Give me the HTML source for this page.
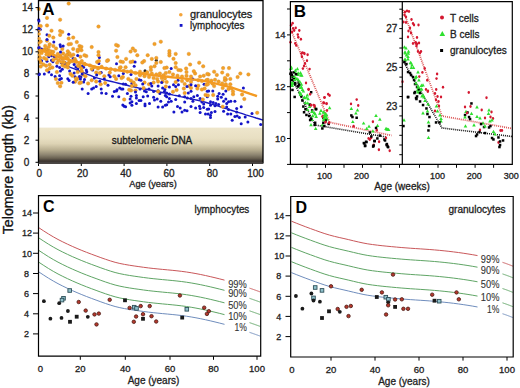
<!DOCTYPE html>
<html><head><meta charset="utf-8"><style>
html,body{margin:0;padding:0;background:#fff;width:520px;height:388px;overflow:hidden}
svg{display:block;font-family:"Liberation Sans", sans-serif}
</style></head><body>
<svg width="520" height="388" viewBox="0 0 520 388">
<rect width="520" height="388" fill="#fff"/>
<defs><linearGradient id="band" x1="0" y1="0" x2="0" y2="1"><stop offset="0" stop-color="#eee6cc"/><stop offset="0.3" stop-color="#e8dfc2"/><stop offset="0.45" stop-color="#ddd3b4"/><stop offset="0.62" stop-color="#b8ae90"/><stop offset="0.76" stop-color="#8c8470"/><stop offset="0.85" stop-color="#6a6252"/><stop offset="0.93" stop-color="#3c3530"/><stop offset="1" stop-color="#4a4644"/></linearGradient></defs>
<rect x="38.5" y="127.6" width="224.5" height="36.0" fill="url(#band)"/>
<text x="152.0" y="144.3" font-size="10" text-anchor="middle" fill="#1a1a1a" stroke="#1a1a1a" stroke-width="0.3" font-weight="normal" >subtelomeric DNA</text>
<circle cx="169.4" cy="98.5" r="1.5" fill="#1414c8"/>
<circle cx="118.8" cy="96.8" r="1.5" fill="#1414c8"/>
<circle cx="101.2" cy="88.9" r="1.5" fill="#1414c8"/>
<circle cx="217.7" cy="99.0" r="1.5" fill="#1414c8"/>
<circle cx="51.5" cy="60.3" r="1.5" fill="#1414c8"/>
<circle cx="67.8" cy="78.8" r="1.5" fill="#1414c8"/>
<circle cx="200.1" cy="98.5" r="1.5" fill="#1414c8"/>
<circle cx="245.2" cy="117.1" r="1.5" fill="#1414c8"/>
<circle cx="82.2" cy="89.0" r="1.5" fill="#1414c8"/>
<circle cx="108.9" cy="74.9" r="1.5" fill="#1414c8"/>
<circle cx="92.6" cy="69.9" r="1.5" fill="#1414c8"/>
<circle cx="165.3" cy="105.3" r="1.5" fill="#1414c8"/>
<circle cx="39.4" cy="73.9" r="1.5" fill="#1414c8"/>
<circle cx="158.1" cy="86.1" r="1.5" fill="#1414c8"/>
<circle cx="131.9" cy="105.3" r="1.5" fill="#1414c8"/>
<circle cx="208.7" cy="91.1" r="1.5" fill="#1414c8"/>
<circle cx="68.7" cy="34.3" r="1.5" fill="#1414c8"/>
<circle cx="136.4" cy="98.1" r="1.5" fill="#1414c8"/>
<circle cx="191.0" cy="98.5" r="1.5" fill="#1414c8"/>
<circle cx="203.7" cy="107.5" r="1.5" fill="#1414c8"/>
<circle cx="145.0" cy="105.8" r="1.5" fill="#1414c8"/>
<circle cx="208.2" cy="113.9" r="1.5" fill="#1414c8"/>
<circle cx="159.9" cy="93.6" r="1.5" fill="#1414c8"/>
<circle cx="119.7" cy="88.0" r="1.5" fill="#1414c8"/>
<circle cx="225.8" cy="99.0" r="1.5" fill="#1414c8"/>
<circle cx="192.9" cy="101.2" r="1.5" fill="#1414c8"/>
<circle cx="175.7" cy="99.4" r="1.5" fill="#1414c8"/>
<circle cx="195.6" cy="108.0" r="1.5" fill="#1414c8"/>
<circle cx="239.4" cy="117.5" r="1.5" fill="#1414c8"/>
<circle cx="48.8" cy="72.1" r="1.5" fill="#1414c8"/>
<circle cx="201.9" cy="102.1" r="1.5" fill="#1414c8"/>
<circle cx="52.9" cy="61.7" r="1.5" fill="#1414c8"/>
<circle cx="230.8" cy="101.3" r="1.5" fill="#1414c8"/>
<circle cx="223.6" cy="101.3" r="1.5" fill="#1414c8"/>
<circle cx="147.7" cy="95.9" r="1.5" fill="#1414c8"/>
<circle cx="60.1" cy="44.8" r="1.5" fill="#1414c8"/>
<circle cx="140.9" cy="80.3" r="1.5" fill="#1414c8"/>
<circle cx="125.6" cy="106.7" r="1.5" fill="#1414c8"/>
<circle cx="180.2" cy="108.0" r="1.5" fill="#1414c8"/>
<circle cx="207.3" cy="91.3" r="1.5" fill="#1414c8"/>
<circle cx="197.4" cy="95.4" r="1.5" fill="#1414c8"/>
<circle cx="118.8" cy="75.8" r="1.5" fill="#1414c8"/>
<circle cx="82.3" cy="65.9" r="1.5" fill="#1414c8"/>
<circle cx="145.0" cy="104.0" r="1.5" fill="#1414c8"/>
<circle cx="101.6" cy="92.9" r="1.5" fill="#1414c8"/>
<circle cx="179.3" cy="95.8" r="1.5" fill="#1414c8"/>
<circle cx="166.7" cy="93.1" r="1.5" fill="#1414c8"/>
<circle cx="173.5" cy="84.8" r="1.5" fill="#1414c8"/>
<circle cx="65.0" cy="62.6" r="1.5" fill="#1414c8"/>
<circle cx="80.4" cy="66.6" r="1.5" fill="#1414c8"/>
<circle cx="164.4" cy="91.6" r="1.5" fill="#1414c8"/>
<circle cx="191.0" cy="91.3" r="1.5" fill="#1414c8"/>
<circle cx="218.6" cy="104.4" r="1.5" fill="#1414c8"/>
<circle cx="215.9" cy="103.5" r="1.5" fill="#1414c8"/>
<circle cx="83.6" cy="82.1" r="1.5" fill="#1414c8"/>
<circle cx="187.0" cy="110.7" r="1.5" fill="#1414c8"/>
<circle cx="212.8" cy="91.1" r="1.5" fill="#1414c8"/>
<circle cx="136.4" cy="95.4" r="1.5" fill="#1414c8"/>
<circle cx="40.3" cy="29.6" r="1.5" fill="#1414c8"/>
<circle cx="62.3" cy="69.3" r="1.5" fill="#1414c8"/>
<circle cx="184.7" cy="110.2" r="1.5" fill="#1414c8"/>
<circle cx="164.9" cy="89.5" r="1.5" fill="#1414c8"/>
<circle cx="200.1" cy="108.4" r="1.5" fill="#1414c8"/>
<circle cx="38.9" cy="30.2" r="1.5" fill="#1414c8"/>
<circle cx="166.7" cy="104.8" r="1.5" fill="#1414c8"/>
<circle cx="149.5" cy="103.5" r="1.5" fill="#1414c8"/>
<circle cx="260.7" cy="124.4" r="1.5" fill="#1414c8"/>
<circle cx="131.0" cy="74.4" r="1.5" fill="#1414c8"/>
<circle cx="165.3" cy="95.4" r="1.5" fill="#1414c8"/>
<circle cx="149.0" cy="88.9" r="1.5" fill="#1414c8"/>
<circle cx="157.2" cy="99.0" r="1.5" fill="#1414c8"/>
<circle cx="252.0" cy="113.4" r="1.5" fill="#1414c8"/>
<circle cx="188.3" cy="93.1" r="1.5" fill="#1414c8"/>
<circle cx="41.6" cy="60.8" r="1.5" fill="#1414c8"/>
<circle cx="169.4" cy="87.0" r="1.5" fill="#1414c8"/>
<circle cx="47.0" cy="34.7" r="1.5" fill="#1414c8"/>
<circle cx="83.6" cy="67.2" r="1.5" fill="#1414c8"/>
<circle cx="69.1" cy="53.4" r="1.5" fill="#1414c8"/>
<circle cx="41.6" cy="48.9" r="1.5" fill="#1414c8"/>
<circle cx="38.7" cy="19.8" r="1.5" fill="#1414c8"/>
<circle cx="184.7" cy="96.7" r="1.5" fill="#1414c8"/>
<circle cx="215.0" cy="111.6" r="1.5" fill="#1414c8"/>
<circle cx="158.1" cy="90.7" r="1.5" fill="#1414c8"/>
<circle cx="75.0" cy="76.8" r="1.5" fill="#1414c8"/>
<circle cx="177.5" cy="106.6" r="1.5" fill="#1414c8"/>
<circle cx="110.2" cy="76.7" r="1.5" fill="#1414c8"/>
<circle cx="210.5" cy="105.3" r="1.5" fill="#1414c8"/>
<circle cx="139.1" cy="79.8" r="1.5" fill="#1414c8"/>
<circle cx="204.1" cy="84.3" r="1.5" fill="#1414c8"/>
<circle cx="69.1" cy="80.4" r="1.5" fill="#1414c8"/>
<circle cx="144.5" cy="91.1" r="1.5" fill="#1414c8"/>
<circle cx="228.5" cy="101.7" r="1.5" fill="#1414c8"/>
<circle cx="203.7" cy="103.9" r="1.5" fill="#1414c8"/>
<circle cx="178.4" cy="84.8" r="1.5" fill="#1414c8"/>
<circle cx="86.3" cy="69.9" r="1.5" fill="#1414c8"/>
<circle cx="207.3" cy="109.3" r="1.5" fill="#1414c8"/>
<circle cx="223.1" cy="94.3" r="1.5" fill="#1414c8"/>
<circle cx="93.5" cy="88.0" r="1.5" fill="#1414c8"/>
<circle cx="127.4" cy="93.4" r="1.5" fill="#1414c8"/>
<circle cx="184.7" cy="102.1" r="1.5" fill="#1414c8"/>
<circle cx="210.5" cy="101.7" r="1.5" fill="#1414c8"/>
<circle cx="80.9" cy="77.1" r="1.5" fill="#1414c8"/>
<circle cx="221.3" cy="97.2" r="1.5" fill="#1414c8"/>
<circle cx="208.7" cy="108.9" r="1.5" fill="#1414c8"/>
<circle cx="168.5" cy="102.1" r="1.5" fill="#1414c8"/>
<circle cx="236.7" cy="112.1" r="1.5" fill="#1414c8"/>
<circle cx="131.9" cy="83.4" r="1.5" fill="#1414c8"/>
<circle cx="124.2" cy="106.2" r="1.5" fill="#1414c8"/>
<circle cx="38.9" cy="48.0" r="1.5" fill="#1414c8"/>
<circle cx="131.0" cy="96.3" r="1.5" fill="#1414c8"/>
<circle cx="223.6" cy="111.2" r="1.5" fill="#1414c8"/>
<circle cx="69.6" cy="71.1" r="1.5" fill="#1414c8"/>
<circle cx="123.3" cy="83.9" r="1.5" fill="#1414c8"/>
<circle cx="123.3" cy="73.5" r="1.5" fill="#1414c8"/>
<circle cx="146.3" cy="91.8" r="1.5" fill="#1414c8"/>
<circle cx="226.7" cy="107.1" r="1.5" fill="#1414c8"/>
<circle cx="226.7" cy="103.5" r="1.5" fill="#1414c8"/>
<circle cx="47.0" cy="61.2" r="1.5" fill="#1414c8"/>
<circle cx="228.5" cy="109.4" r="1.5" fill="#1414c8"/>
<circle cx="243.4" cy="88.0" r="1.5" fill="#1414c8"/>
<circle cx="75.9" cy="67.1" r="1.5" fill="#1414c8"/>
<circle cx="66.9" cy="64.4" r="1.5" fill="#1414c8"/>
<circle cx="98.9" cy="63.4" r="1.5" fill="#1414c8"/>
<circle cx="187.4" cy="98.1" r="1.5" fill="#1414c8"/>
<circle cx="154.5" cy="99.9" r="1.5" fill="#1414c8"/>
<circle cx="234.9" cy="101.3" r="1.5" fill="#1414c8"/>
<circle cx="99.4" cy="57.5" r="1.5" fill="#1414c8"/>
<circle cx="153.6" cy="91.6" r="1.5" fill="#1414c8"/>
<circle cx="106.1" cy="93.4" r="1.5" fill="#1414c8"/>
<circle cx="140.0" cy="88.9" r="1.5" fill="#1414c8"/>
<circle cx="215.0" cy="105.8" r="1.5" fill="#1414c8"/>
<circle cx="182.0" cy="112.1" r="1.5" fill="#1414c8"/>
<circle cx="48.8" cy="56.7" r="1.5" fill="#1414c8"/>
<circle cx="225.8" cy="91.1" r="1.5" fill="#1414c8"/>
<circle cx="178.0" cy="80.2" r="1.5" fill="#1414c8"/>
<circle cx="101.2" cy="72.6" r="1.5" fill="#1414c8"/>
<circle cx="74.1" cy="73.0" r="1.5" fill="#1414c8"/>
<circle cx="247.9" cy="122.0" r="1.5" fill="#1414c8"/>
<circle cx="160.8" cy="101.3" r="1.5" fill="#1414c8"/>
<circle cx="136.4" cy="103.5" r="1.5" fill="#1414c8"/>
<circle cx="61.4" cy="78.4" r="1.5" fill="#1414c8"/>
<circle cx="112.5" cy="96.3" r="1.5" fill="#1414c8"/>
<circle cx="55.1" cy="76.6" r="1.5" fill="#1414c8"/>
<circle cx="210.5" cy="117.5" r="1.5" fill="#1414c8"/>
<circle cx="51.5" cy="55.8" r="1.5" fill="#1414c8"/>
<circle cx="236.7" cy="108.5" r="1.5" fill="#1414c8"/>
<circle cx="131.9" cy="101.7" r="1.5" fill="#1414c8"/>
<circle cx="205.5" cy="113.9" r="1.5" fill="#1414c8"/>
<circle cx="241.2" cy="123.8" r="1.5" fill="#1414c8"/>
<circle cx="73.2" cy="58.5" r="1.5" fill="#1414c8"/>
<circle cx="207.3" cy="96.7" r="1.5" fill="#1414c8"/>
<circle cx="77.7" cy="68.9" r="1.5" fill="#1414c8"/>
<circle cx="191.0" cy="106.6" r="1.5" fill="#1414c8"/>
<circle cx="156.3" cy="60.2" r="1.5" fill="#222"/>
<circle cx="145.0" cy="70.8" r="1.5" fill="#222"/>
<path d="M60.0,63.0 L63.4,64.4 L66.9,65.8 L70.3,67.3 L73.8,68.7 L77.2,70.1 L80.6,71.5 L84.1,72.9 L87.5,74.3 L91.0,75.7 L94.4,77.1 L97.8,78.2 L101.3,79.1 L104.7,79.9 L108.2,80.7 L111.6,81.5 L115.1,82.4 L118.5,83.2 L121.9,84.0 L125.4,84.8 L128.8,85.7 L132.3,86.5 L135.7,87.3 L139.1,88.1 L142.6,88.7 L146.0,89.2 L149.5,89.8 L152.9,90.5 L156.3,91.3 L159.8,92.0 L163.2,92.8 L166.7,93.5 L170.1,94.3 L173.5,95.1 L177.0,95.8 L180.4,96.6 L183.9,97.3 L187.3,98.1 L190.7,98.8 L194.2,99.6 L197.6,100.3 L201.1,101.1 L204.5,102.0 L207.9,103.0 L211.4,104.1 L214.8,105.2 L218.3,106.2 L221.7,107.3 L225.2,108.4 L228.6,109.4 L232.0,110.5 L235.5,111.6 L238.9,112.6 L242.4,113.7 L245.8,114.8 L249.2,115.8 L252.7,116.9 L256.1,118.0 L259.6,119.0 L263.0,120.1" stroke="#1a1ac0" stroke-width="1.4" fill="none"/>
<circle cx="177.5" cy="75.7" r="1.75" fill="#f5a125" stroke="#d48c2a" stroke-width="0.4"/>
<circle cx="60.1" cy="19.7" r="1.75" fill="#f5a125" stroke="#d48c2a" stroke-width="0.4"/>
<circle cx="175.7" cy="63.1" r="1.75" fill="#f5a125" stroke="#d48c2a" stroke-width="0.4"/>
<circle cx="51.1" cy="51.4" r="1.75" fill="#f5a125" stroke="#d48c2a" stroke-width="0.4"/>
<circle cx="184.7" cy="83.9" r="1.75" fill="#f5a125" stroke="#d48c2a" stroke-width="0.4"/>
<circle cx="52.4" cy="67.5" r="1.75" fill="#f5a125" stroke="#d48c2a" stroke-width="0.4"/>
<circle cx="144.5" cy="82.5" r="1.75" fill="#f5a125" stroke="#d48c2a" stroke-width="0.4"/>
<circle cx="190.1" cy="64.5" r="1.75" fill="#f5a125" stroke="#d48c2a" stroke-width="0.4"/>
<circle cx="114.3" cy="76.2" r="1.75" fill="#f5a125" stroke="#d48c2a" stroke-width="0.4"/>
<circle cx="165.8" cy="73.0" r="1.75" fill="#f5a125" stroke="#d48c2a" stroke-width="0.4"/>
<circle cx="62.3" cy="48.9" r="1.75" fill="#f5a125" stroke="#d48c2a" stroke-width="0.4"/>
<circle cx="49.7" cy="64.8" r="1.75" fill="#f5a125" stroke="#d48c2a" stroke-width="0.4"/>
<circle cx="131.0" cy="80.7" r="1.75" fill="#f5a125" stroke="#d48c2a" stroke-width="0.4"/>
<circle cx="214.1" cy="86.1" r="1.75" fill="#f5a125" stroke="#d48c2a" stroke-width="0.4"/>
<circle cx="140.0" cy="71.7" r="1.75" fill="#f5a125" stroke="#d48c2a" stroke-width="0.4"/>
<circle cx="96.2" cy="72.6" r="1.75" fill="#f5a125" stroke="#d48c2a" stroke-width="0.4"/>
<circle cx="44.0" cy="58.0" r="1.75" fill="#f5a125" stroke="#d48c2a" stroke-width="0.4"/>
<circle cx="97.1" cy="62.0" r="1.75" fill="#f5a125" stroke="#d48c2a" stroke-width="0.4"/>
<circle cx="57.8" cy="83.1" r="1.75" fill="#f5a125" stroke="#d48c2a" stroke-width="0.4"/>
<circle cx="98.5" cy="55.2" r="1.75" fill="#f5a125" stroke="#d48c2a" stroke-width="0.4"/>
<circle cx="198.3" cy="85.7" r="1.75" fill="#f5a125" stroke="#d48c2a" stroke-width="0.4"/>
<circle cx="116.1" cy="78.9" r="1.75" fill="#f5a125" stroke="#d48c2a" stroke-width="0.4"/>
<circle cx="53.2" cy="51.8" r="1.75" fill="#f5a125" stroke="#d48c2a" stroke-width="0.4"/>
<circle cx="166.7" cy="67.6" r="1.75" fill="#f5a125" stroke="#d48c2a" stroke-width="0.4"/>
<circle cx="218.6" cy="81.6" r="1.75" fill="#f5a125" stroke="#d48c2a" stroke-width="0.4"/>
<circle cx="110.7" cy="69.0" r="1.75" fill="#f5a125" stroke="#d48c2a" stroke-width="0.4"/>
<circle cx="73.2" cy="48.9" r="1.75" fill="#f5a125" stroke="#d48c2a" stroke-width="0.4"/>
<circle cx="88.1" cy="83.4" r="1.75" fill="#f5a125" stroke="#d48c2a" stroke-width="0.4"/>
<circle cx="191.0" cy="87.9" r="1.75" fill="#f5a125" stroke="#d48c2a" stroke-width="0.4"/>
<circle cx="63.0" cy="59.0" r="1.75" fill="#f5a125" stroke="#d48c2a" stroke-width="0.4"/>
<circle cx="119.7" cy="68.1" r="1.75" fill="#f5a125" stroke="#d48c2a" stroke-width="0.4"/>
<circle cx="244.3" cy="99.0" r="1.75" fill="#f5a125" stroke="#d48c2a" stroke-width="0.4"/>
<circle cx="147.7" cy="55.2" r="1.75" fill="#f5a125" stroke="#d48c2a" stroke-width="0.4"/>
<circle cx="169.4" cy="55.5" r="1.75" fill="#f5a125" stroke="#d48c2a" stroke-width="0.4"/>
<circle cx="206.4" cy="84.8" r="1.75" fill="#f5a125" stroke="#d48c2a" stroke-width="0.4"/>
<circle cx="131.0" cy="90.5" r="1.75" fill="#f5a125" stroke="#d48c2a" stroke-width="0.4"/>
<circle cx="213.2" cy="95.0" r="1.75" fill="#f5a125" stroke="#d48c2a" stroke-width="0.4"/>
<circle cx="211.4" cy="80.7" r="1.75" fill="#f5a125" stroke="#d48c2a" stroke-width="0.4"/>
<circle cx="131.0" cy="71.3" r="1.75" fill="#f5a125" stroke="#d48c2a" stroke-width="0.4"/>
<circle cx="205.5" cy="94.9" r="1.75" fill="#f5a125" stroke="#d48c2a" stroke-width="0.4"/>
<circle cx="94.4" cy="67.2" r="1.75" fill="#f5a125" stroke="#d48c2a" stroke-width="0.4"/>
<circle cx="46.1" cy="65.7" r="1.75" fill="#f5a125" stroke="#d48c2a" stroke-width="0.4"/>
<circle cx="79.5" cy="63.0" r="1.75" fill="#f5a125" stroke="#d48c2a" stroke-width="0.4"/>
<circle cx="133.7" cy="82.5" r="1.75" fill="#f5a125" stroke="#d48c2a" stroke-width="0.4"/>
<circle cx="82.7" cy="74.4" r="1.75" fill="#f5a125" stroke="#d48c2a" stroke-width="0.4"/>
<circle cx="128.3" cy="78.9" r="1.75" fill="#f5a125" stroke="#d48c2a" stroke-width="0.4"/>
<circle cx="62.5" cy="65.3" r="1.75" fill="#f5a125" stroke="#d48c2a" stroke-width="0.4"/>
<circle cx="182.0" cy="76.6" r="1.75" fill="#f5a125" stroke="#d48c2a" stroke-width="0.4"/>
<circle cx="202.8" cy="99.4" r="1.75" fill="#f5a125" stroke="#d48c2a" stroke-width="0.4"/>
<circle cx="68.7" cy="3.6" r="1.75" fill="#f5a125" stroke="#d48c2a" stroke-width="0.4"/>
<circle cx="199.2" cy="62.7" r="1.75" fill="#f5a125" stroke="#d48c2a" stroke-width="0.4"/>
<circle cx="60.1" cy="86.3" r="1.75" fill="#f5a125" stroke="#d48c2a" stroke-width="0.4"/>
<circle cx="233.0" cy="94.3" r="1.75" fill="#f5a125" stroke="#d48c2a" stroke-width="0.4"/>
<circle cx="44.3" cy="49.5" r="1.75" fill="#f5a125" stroke="#d48c2a" stroke-width="0.4"/>
<circle cx="60.5" cy="55.8" r="1.75" fill="#f5a125" stroke="#d48c2a" stroke-width="0.4"/>
<circle cx="154.5" cy="66.3" r="1.75" fill="#f5a125" stroke="#d48c2a" stroke-width="0.4"/>
<circle cx="233.0" cy="91.6" r="1.75" fill="#f5a125" stroke="#d48c2a" stroke-width="0.4"/>
<circle cx="222.2" cy="72.6" r="1.75" fill="#f5a125" stroke="#d48c2a" stroke-width="0.4"/>
<circle cx="86.3" cy="56.1" r="1.75" fill="#f5a125" stroke="#d48c2a" stroke-width="0.4"/>
<circle cx="76.8" cy="79.5" r="1.75" fill="#f5a125" stroke="#d48c2a" stroke-width="0.4"/>
<circle cx="53.3" cy="37.6" r="1.75" fill="#f5a125" stroke="#d48c2a" stroke-width="0.4"/>
<circle cx="160.8" cy="62.0" r="1.75" fill="#f5a125" stroke="#d48c2a" stroke-width="0.4"/>
<circle cx="222.2" cy="83.4" r="1.75" fill="#f5a125" stroke="#d48c2a" stroke-width="0.4"/>
<circle cx="106.1" cy="68.6" r="1.75" fill="#f5a125" stroke="#d48c2a" stroke-width="0.4"/>
<circle cx="46.6" cy="48.9" r="1.75" fill="#f5a125" stroke="#d48c2a" stroke-width="0.4"/>
<circle cx="72.3" cy="61.2" r="1.75" fill="#f5a125" stroke="#d48c2a" stroke-width="0.4"/>
<circle cx="47.0" cy="50.4" r="1.75" fill="#f5a125" stroke="#d48c2a" stroke-width="0.4"/>
<circle cx="223.1" cy="68.1" r="1.75" fill="#f5a125" stroke="#d48c2a" stroke-width="0.4"/>
<circle cx="137.3" cy="55.2" r="1.75" fill="#f5a125" stroke="#d48c2a" stroke-width="0.4"/>
<circle cx="144.5" cy="76.2" r="1.75" fill="#f5a125" stroke="#d48c2a" stroke-width="0.4"/>
<circle cx="41.1" cy="51.9" r="1.75" fill="#f5a125" stroke="#d48c2a" stroke-width="0.4"/>
<circle cx="132.8" cy="48.5" r="1.75" fill="#f5a125" stroke="#d48c2a" stroke-width="0.4"/>
<circle cx="162.6" cy="81.6" r="1.75" fill="#f5a125" stroke="#d48c2a" stroke-width="0.4"/>
<circle cx="75.9" cy="78.4" r="1.75" fill="#f5a125" stroke="#d48c2a" stroke-width="0.4"/>
<circle cx="130.6" cy="51.6" r="1.75" fill="#f5a125" stroke="#d48c2a" stroke-width="0.4"/>
<circle cx="79.5" cy="46.1" r="1.75" fill="#f5a125" stroke="#d48c2a" stroke-width="0.4"/>
<circle cx="207.8" cy="84.3" r="1.75" fill="#f5a125" stroke="#d48c2a" stroke-width="0.4"/>
<circle cx="151.8" cy="73.5" r="1.75" fill="#f5a125" stroke="#d48c2a" stroke-width="0.4"/>
<circle cx="63.2" cy="53.4" r="1.75" fill="#f5a125" stroke="#d48c2a" stroke-width="0.4"/>
<circle cx="39.8" cy="57.6" r="1.75" fill="#f5a125" stroke="#d48c2a" stroke-width="0.4"/>
<circle cx="77.7" cy="72.1" r="1.75" fill="#f5a125" stroke="#d48c2a" stroke-width="0.4"/>
<circle cx="151.8" cy="58.9" r="1.75" fill="#f5a125" stroke="#d48c2a" stroke-width="0.4"/>
<circle cx="203.2" cy="66.3" r="1.75" fill="#f5a125" stroke="#d48c2a" stroke-width="0.4"/>
<circle cx="48.3" cy="51.0" r="1.75" fill="#f5a125" stroke="#d48c2a" stroke-width="0.4"/>
<circle cx="62.1" cy="58.2" r="1.75" fill="#f5a125" stroke="#d48c2a" stroke-width="0.4"/>
<circle cx="71.0" cy="56.0" r="1.75" fill="#f5a125" stroke="#d48c2a" stroke-width="0.4"/>
<circle cx="203.7" cy="75.7" r="1.75" fill="#f5a125" stroke="#d48c2a" stroke-width="0.4"/>
<circle cx="257.2" cy="112.8" r="1.75" fill="#f5a125" stroke="#d48c2a" stroke-width="0.4"/>
<circle cx="195.1" cy="73.5" r="1.75" fill="#f5a125" stroke="#d48c2a" stroke-width="0.4"/>
<circle cx="207.8" cy="95.4" r="1.75" fill="#f5a125" stroke="#d48c2a" stroke-width="0.4"/>
<circle cx="53.3" cy="60.0" r="1.75" fill="#f5a125" stroke="#d48c2a" stroke-width="0.4"/>
<circle cx="230.3" cy="84.3" r="1.75" fill="#f5a125" stroke="#d48c2a" stroke-width="0.4"/>
<circle cx="124.2" cy="99.5" r="1.75" fill="#f5a125" stroke="#d48c2a" stroke-width="0.4"/>
<circle cx="99.8" cy="73.1" r="1.75" fill="#f5a125" stroke="#d48c2a" stroke-width="0.4"/>
<circle cx="41.6" cy="53.1" r="1.75" fill="#f5a125" stroke="#d48c2a" stroke-width="0.4"/>
<circle cx="186.5" cy="72.1" r="1.75" fill="#f5a125" stroke="#d48c2a" stroke-width="0.4"/>
<circle cx="58.7" cy="60.3" r="1.75" fill="#f5a125" stroke="#d48c2a" stroke-width="0.4"/>
<circle cx="156.3" cy="58.0" r="1.75" fill="#f5a125" stroke="#d48c2a" stroke-width="0.4"/>
<circle cx="237.6" cy="77.1" r="1.75" fill="#f5a125" stroke="#d48c2a" stroke-width="0.4"/>
<circle cx="165.8" cy="86.6" r="1.75" fill="#f5a125" stroke="#d48c2a" stroke-width="0.4"/>
<circle cx="204.6" cy="88.6" r="1.75" fill="#f5a125" stroke="#d48c2a" stroke-width="0.4"/>
<circle cx="56.9" cy="72.1" r="1.75" fill="#f5a125" stroke="#d48c2a" stroke-width="0.4"/>
<circle cx="105.2" cy="83.0" r="1.75" fill="#f5a125" stroke="#d48c2a" stroke-width="0.4"/>
<circle cx="130.6" cy="62.0" r="1.75" fill="#f5a125" stroke="#d48c2a" stroke-width="0.4"/>
<circle cx="47.0" cy="40.7" r="1.75" fill="#f5a125" stroke="#d48c2a" stroke-width="0.4"/>
<circle cx="60.1" cy="34.9" r="1.75" fill="#f5a125" stroke="#d48c2a" stroke-width="0.4"/>
<circle cx="184.7" cy="93.1" r="1.75" fill="#f5a125" stroke="#d48c2a" stroke-width="0.4"/>
<circle cx="240.3" cy="73.5" r="1.75" fill="#f5a125" stroke="#d48c2a" stroke-width="0.4"/>
<circle cx="98.5" cy="26.6" r="1.75" fill="#f5a125" stroke="#d48c2a" stroke-width="0.4"/>
<circle cx="65.0" cy="66.6" r="1.75" fill="#f5a125" stroke="#d48c2a" stroke-width="0.4"/>
<circle cx="153.6" cy="78.0" r="1.75" fill="#f5a125" stroke="#d48c2a" stroke-width="0.4"/>
<circle cx="156.3" cy="62.9" r="1.75" fill="#f5a125" stroke="#d48c2a" stroke-width="0.4"/>
<circle cx="47.0" cy="70.2" r="1.75" fill="#f5a125" stroke="#d48c2a" stroke-width="0.4"/>
<circle cx="49.7" cy="68.4" r="1.75" fill="#f5a125" stroke="#d48c2a" stroke-width="0.4"/>
<circle cx="169.4" cy="53.4" r="1.75" fill="#f5a125" stroke="#d48c2a" stroke-width="0.4"/>
<circle cx="68.7" cy="38.5" r="1.75" fill="#f5a125" stroke="#d48c2a" stroke-width="0.4"/>
<circle cx="115.2" cy="69.9" r="1.75" fill="#f5a125" stroke="#d48c2a" stroke-width="0.4"/>
<circle cx="127.4" cy="71.7" r="1.75" fill="#f5a125" stroke="#d48c2a" stroke-width="0.4"/>
<circle cx="188.8" cy="53.9" r="1.75" fill="#f5a125" stroke="#d48c2a" stroke-width="0.4"/>
<circle cx="70.5" cy="73.9" r="1.75" fill="#f5a125" stroke="#d48c2a" stroke-width="0.4"/>
<circle cx="60.1" cy="31.1" r="1.75" fill="#f5a125" stroke="#d48c2a" stroke-width="0.4"/>
<circle cx="77.7" cy="51.3" r="1.75" fill="#f5a125" stroke="#d48c2a" stroke-width="0.4"/>
<circle cx="135.1" cy="50.7" r="1.75" fill="#f5a125" stroke="#d48c2a" stroke-width="0.4"/>
<circle cx="67.8" cy="67.5" r="1.75" fill="#f5a125" stroke="#d48c2a" stroke-width="0.4"/>
<circle cx="230.3" cy="78.9" r="1.75" fill="#f5a125" stroke="#d48c2a" stroke-width="0.4"/>
<circle cx="149.0" cy="84.3" r="1.75" fill="#f5a125" stroke="#d48c2a" stroke-width="0.4"/>
<circle cx="153.6" cy="82.5" r="1.75" fill="#f5a125" stroke="#d48c2a" stroke-width="0.4"/>
<circle cx="109.8" cy="72.6" r="1.75" fill="#f5a125" stroke="#d48c2a" stroke-width="0.4"/>
<circle cx="75.0" cy="81.8" r="1.75" fill="#f5a125" stroke="#d48c2a" stroke-width="0.4"/>
<circle cx="149.0" cy="77.1" r="1.75" fill="#f5a125" stroke="#d48c2a" stroke-width="0.4"/>
<circle cx="173.0" cy="91.8" r="1.75" fill="#f5a125" stroke="#d48c2a" stroke-width="0.4"/>
<circle cx="44.3" cy="50.7" r="1.75" fill="#f5a125" stroke="#d48c2a" stroke-width="0.4"/>
<circle cx="117.4" cy="57.1" r="1.75" fill="#f5a125" stroke="#d48c2a" stroke-width="0.4"/>
<circle cx="40.7" cy="66.6" r="1.75" fill="#f5a125" stroke="#d48c2a" stroke-width="0.4"/>
<circle cx="85.4" cy="76.2" r="1.75" fill="#f5a125" stroke="#d48c2a" stroke-width="0.4"/>
<circle cx="178.4" cy="69.9" r="1.75" fill="#f5a125" stroke="#d48c2a" stroke-width="0.4"/>
<circle cx="159.9" cy="73.5" r="1.75" fill="#f5a125" stroke="#d48c2a" stroke-width="0.4"/>
<circle cx="47.0" cy="17.9" r="1.75" fill="#f5a125" stroke="#d48c2a" stroke-width="0.4"/>
<circle cx="225.9" cy="79.4" r="1.75" fill="#f5a125" stroke="#d48c2a" stroke-width="0.4"/>
<circle cx="81.4" cy="50.3" r="1.75" fill="#f5a125" stroke="#d48c2a" stroke-width="0.4"/>
<circle cx="227.6" cy="74.9" r="1.75" fill="#f5a125" stroke="#d48c2a" stroke-width="0.4"/>
<circle cx="84.5" cy="63.8" r="1.75" fill="#f5a125" stroke="#d48c2a" stroke-width="0.4"/>
<circle cx="158.1" cy="81.6" r="1.75" fill="#f5a125" stroke="#d48c2a" stroke-width="0.4"/>
<circle cx="43.4" cy="64.4" r="1.75" fill="#f5a125" stroke="#d48c2a" stroke-width="0.4"/>
<circle cx="70.9" cy="43.9" r="1.75" fill="#f5a125" stroke="#d48c2a" stroke-width="0.4"/>
<circle cx="187.4" cy="80.2" r="1.75" fill="#f5a125" stroke="#d48c2a" stroke-width="0.4"/>
<circle cx="67.4" cy="64.1" r="1.75" fill="#f5a125" stroke="#d48c2a" stroke-width="0.4"/>
<circle cx="49.3" cy="54.9" r="1.75" fill="#f5a125" stroke="#d48c2a" stroke-width="0.4"/>
<circle cx="225.8" cy="84.3" r="1.75" fill="#f5a125" stroke="#d48c2a" stroke-width="0.4"/>
<circle cx="175.7" cy="53.9" r="1.75" fill="#f5a125" stroke="#d48c2a" stroke-width="0.4"/>
<circle cx="125.6" cy="67.2" r="1.75" fill="#f5a125" stroke="#d48c2a" stroke-width="0.4"/>
<circle cx="40.7" cy="62.6" r="1.75" fill="#f5a125" stroke="#d48c2a" stroke-width="0.4"/>
<circle cx="48.6" cy="51.2" r="1.75" fill="#f5a125" stroke="#d48c2a" stroke-width="0.4"/>
<circle cx="47.0" cy="25.4" r="1.75" fill="#f5a125" stroke="#d48c2a" stroke-width="0.4"/>
<circle cx="157.2" cy="78.9" r="1.75" fill="#f5a125" stroke="#d48c2a" stroke-width="0.4"/>
<circle cx="73.2" cy="37.6" r="1.75" fill="#f5a125" stroke="#d48c2a" stroke-width="0.4"/>
<circle cx="81.8" cy="61.1" r="1.75" fill="#f5a125" stroke="#d48c2a" stroke-width="0.4"/>
<circle cx="79.6" cy="66.0" r="1.75" fill="#f5a125" stroke="#d48c2a" stroke-width="0.4"/>
<circle cx="81.4" cy="46.7" r="1.75" fill="#f5a125" stroke="#d48c2a" stroke-width="0.4"/>
<circle cx="191.0" cy="82.1" r="1.75" fill="#f5a125" stroke="#d48c2a" stroke-width="0.4"/>
<circle cx="116.1" cy="50.7" r="1.75" fill="#f5a125" stroke="#d48c2a" stroke-width="0.4"/>
<circle cx="173.5" cy="58.8" r="1.75" fill="#f5a125" stroke="#d48c2a" stroke-width="0.4"/>
<circle cx="129.2" cy="89.8" r="1.75" fill="#f5a125" stroke="#d48c2a" stroke-width="0.4"/>
<circle cx="186.1" cy="68.5" r="1.75" fill="#f5a125" stroke="#d48c2a" stroke-width="0.4"/>
<circle cx="98.9" cy="61.1" r="1.75" fill="#f5a125" stroke="#d48c2a" stroke-width="0.4"/>
<circle cx="64.1" cy="62.3" r="1.75" fill="#f5a125" stroke="#d48c2a" stroke-width="0.4"/>
<circle cx="98.5" cy="52.1" r="1.75" fill="#f5a125" stroke="#d48c2a" stroke-width="0.4"/>
<circle cx="74.8" cy="59.1" r="1.75" fill="#f5a125" stroke="#d48c2a" stroke-width="0.4"/>
<circle cx="81.3" cy="68.4" r="1.75" fill="#f5a125" stroke="#d48c2a" stroke-width="0.4"/>
<circle cx="79.1" cy="77.6" r="1.75" fill="#f5a125" stroke="#d48c2a" stroke-width="0.4"/>
<circle cx="84.8" cy="64.3" r="1.75" fill="#f5a125" stroke="#d48c2a" stroke-width="0.4"/>
<circle cx="108.0" cy="60.2" r="1.75" fill="#f5a125" stroke="#d48c2a" stroke-width="0.4"/>
<circle cx="104.3" cy="76.2" r="1.75" fill="#f5a125" stroke="#d48c2a" stroke-width="0.4"/>
<circle cx="208.7" cy="74.4" r="1.75" fill="#f5a125" stroke="#d48c2a" stroke-width="0.4"/>
<circle cx="222.7" cy="106.7" r="1.75" fill="#f5a125" stroke="#d48c2a" stroke-width="0.4"/>
<circle cx="49.7" cy="44.3" r="1.75" fill="#f5a125" stroke="#d48c2a" stroke-width="0.4"/>
<circle cx="135.5" cy="73.1" r="1.75" fill="#f5a125" stroke="#d48c2a" stroke-width="0.4"/>
<circle cx="228.5" cy="88.9" r="1.75" fill="#f5a125" stroke="#d48c2a" stroke-width="0.4"/>
<circle cx="135.5" cy="90.5" r="1.75" fill="#f5a125" stroke="#d48c2a" stroke-width="0.4"/>
<circle cx="150.9" cy="69.9" r="1.75" fill="#f5a125" stroke="#d48c2a" stroke-width="0.4"/>
<circle cx="144.1" cy="61.1" r="1.75" fill="#f5a125" stroke="#d48c2a" stroke-width="0.4"/>
<circle cx="78.0" cy="65.7" r="1.75" fill="#f5a125" stroke="#d48c2a" stroke-width="0.4"/>
<circle cx="216.8" cy="74.9" r="1.75" fill="#f5a125" stroke="#d48c2a" stroke-width="0.4"/>
<circle cx="67.8" cy="51.3" r="1.75" fill="#f5a125" stroke="#d48c2a" stroke-width="0.4"/>
<circle cx="186.5" cy="75.7" r="1.75" fill="#f5a125" stroke="#d48c2a" stroke-width="0.4"/>
<circle cx="39.7" cy="57.8" r="1.75" fill="#f5a125" stroke="#d48c2a" stroke-width="0.4"/>
<circle cx="136.4" cy="78.9" r="1.75" fill="#f5a125" stroke="#d48c2a" stroke-width="0.4"/>
<circle cx="107.0" cy="60.9" r="1.75" fill="#f5a125" stroke="#d48c2a" stroke-width="0.4"/>
<circle cx="49.3" cy="35.8" r="1.75" fill="#f5a125" stroke="#d48c2a" stroke-width="0.4"/>
<circle cx="61.4" cy="82.7" r="1.75" fill="#f5a125" stroke="#d48c2a" stroke-width="0.4"/>
<circle cx="164.4" cy="68.1" r="1.75" fill="#f5a125" stroke="#d48c2a" stroke-width="0.4"/>
<circle cx="140.0" cy="75.3" r="1.75" fill="#f5a125" stroke="#d48c2a" stroke-width="0.4"/>
<circle cx="60.7" cy="57.5" r="1.75" fill="#f5a125" stroke="#d48c2a" stroke-width="0.4"/>
<circle cx="197.4" cy="88.6" r="1.75" fill="#f5a125" stroke="#d48c2a" stroke-width="0.4"/>
<circle cx="91.7" cy="47.1" r="1.75" fill="#f5a125" stroke="#d48c2a" stroke-width="0.4"/>
<circle cx="62.3" cy="32.0" r="1.75" fill="#f5a125" stroke="#d48c2a" stroke-width="0.4"/>
<circle cx="143.6" cy="88.0" r="1.75" fill="#f5a125" stroke="#d48c2a" stroke-width="0.4"/>
<circle cx="52.4" cy="52.7" r="1.75" fill="#f5a125" stroke="#d48c2a" stroke-width="0.4"/>
<circle cx="142.3" cy="62.5" r="1.75" fill="#f5a125" stroke="#d48c2a" stroke-width="0.4"/>
<circle cx="80.4" cy="56.7" r="1.75" fill="#f5a125" stroke="#d48c2a" stroke-width="0.4"/>
<circle cx="91.7" cy="69.0" r="1.75" fill="#f5a125" stroke="#d48c2a" stroke-width="0.4"/>
<circle cx="75.8" cy="60.9" r="1.75" fill="#f5a125" stroke="#d48c2a" stroke-width="0.4"/>
<circle cx="207.8" cy="79.8" r="1.75" fill="#f5a125" stroke="#d48c2a" stroke-width="0.4"/>
<circle cx="67.8" cy="58.5" r="1.75" fill="#f5a125" stroke="#d48c2a" stroke-width="0.4"/>
<circle cx="147.2" cy="72.2" r="1.75" fill="#f5a125" stroke="#d48c2a" stroke-width="0.4"/>
<circle cx="61.4" cy="62.1" r="1.75" fill="#f5a125" stroke="#d48c2a" stroke-width="0.4"/>
<circle cx="72.3" cy="75.7" r="1.75" fill="#f5a125" stroke="#d48c2a" stroke-width="0.4"/>
<circle cx="169.4" cy="51.1" r="1.75" fill="#f5a125" stroke="#d48c2a" stroke-width="0.4"/>
<circle cx="54.0" cy="56.0" r="1.75" fill="#f5a125" stroke="#d48c2a" stroke-width="0.4"/>
<circle cx="79.5" cy="83.1" r="1.75" fill="#f5a125" stroke="#d48c2a" stroke-width="0.4"/>
<circle cx="175.7" cy="67.2" r="1.75" fill="#f5a125" stroke="#d48c2a" stroke-width="0.4"/>
<circle cx="76.8" cy="42.1" r="1.75" fill="#f5a125" stroke="#d48c2a" stroke-width="0.4"/>
<circle cx="206.4" cy="80.2" r="1.75" fill="#f5a125" stroke="#d48c2a" stroke-width="0.4"/>
<circle cx="224.9" cy="80.3" r="1.75" fill="#f5a125" stroke="#d48c2a" stroke-width="0.4"/>
<circle cx="57.1" cy="62.8" r="1.75" fill="#f5a125" stroke="#d48c2a" stroke-width="0.4"/>
<circle cx="242.1" cy="94.5" r="1.75" fill="#f5a125" stroke="#d48c2a" stroke-width="0.4"/>
<circle cx="91.7" cy="80.3" r="1.75" fill="#f5a125" stroke="#d48c2a" stroke-width="0.4"/>
<circle cx="120.6" cy="67.2" r="1.75" fill="#f5a125" stroke="#d48c2a" stroke-width="0.4"/>
<circle cx="248.4" cy="74.4" r="1.75" fill="#f5a125" stroke="#d48c2a" stroke-width="0.4"/>
<circle cx="143.6" cy="73.5" r="1.75" fill="#f5a125" stroke="#d48c2a" stroke-width="0.4"/>
<circle cx="183.8" cy="88.6" r="1.75" fill="#f5a125" stroke="#d48c2a" stroke-width="0.4"/>
<circle cx="69.6" cy="62.1" r="1.75" fill="#f5a125" stroke="#d48c2a" stroke-width="0.4"/>
<circle cx="231.7" cy="88.5" r="1.75" fill="#f5a125" stroke="#d48c2a" stroke-width="0.4"/>
<circle cx="75.9" cy="62.1" r="1.75" fill="#f5a125" stroke="#d48c2a" stroke-width="0.4"/>
<circle cx="131.9" cy="86.1" r="1.75" fill="#f5a125" stroke="#d48c2a" stroke-width="0.4"/>
<circle cx="117.9" cy="45.8" r="1.75" fill="#f5a125" stroke="#d48c2a" stroke-width="0.4"/>
<circle cx="38.8" cy="9.0" r="1.75" fill="#f5a125" stroke="#d48c2a" stroke-width="0.4"/>
<circle cx="207.3" cy="73.9" r="1.75" fill="#f5a125" stroke="#d48c2a" stroke-width="0.4"/>
<circle cx="176.6" cy="90.0" r="1.75" fill="#f5a125" stroke="#d48c2a" stroke-width="0.4"/>
<circle cx="161.7" cy="78.0" r="1.75" fill="#f5a125" stroke="#d48c2a" stroke-width="0.4"/>
<circle cx="201.9" cy="81.1" r="1.75" fill="#f5a125" stroke="#d48c2a" stroke-width="0.4"/>
<circle cx="182.0" cy="81.1" r="1.75" fill="#f5a125" stroke="#d48c2a" stroke-width="0.4"/>
<circle cx="120.6" cy="61.6" r="1.75" fill="#f5a125" stroke="#d48c2a" stroke-width="0.4"/>
<circle cx="214.1" cy="71.7" r="1.75" fill="#f5a125" stroke="#d48c2a" stroke-width="0.4"/>
<circle cx="189.2" cy="85.9" r="1.75" fill="#f5a125" stroke="#d48c2a" stroke-width="0.4"/>
<circle cx="45.2" cy="45.9" r="1.75" fill="#f5a125" stroke="#d48c2a" stroke-width="0.4"/>
<circle cx="158.1" cy="91.4" r="1.75" fill="#f5a125" stroke="#d48c2a" stroke-width="0.4"/>
<circle cx="132.8" cy="61.6" r="1.75" fill="#f5a125" stroke="#d48c2a" stroke-width="0.4"/>
<circle cx="40.7" cy="26.1" r="1.75" fill="#f5a125" stroke="#d48c2a" stroke-width="0.4"/>
<circle cx="215.0" cy="79.8" r="1.75" fill="#f5a125" stroke="#d48c2a" stroke-width="0.4"/>
<circle cx="173.0" cy="74.4" r="1.75" fill="#f5a125" stroke="#d48c2a" stroke-width="0.4"/>
<circle cx="48.8" cy="47.1" r="1.75" fill="#f5a125" stroke="#d48c2a" stroke-width="0.4"/>
<circle cx="51.5" cy="30.7" r="1.75" fill="#f5a125" stroke="#d48c2a" stroke-width="0.4"/>
<circle cx="77.7" cy="49.8" r="1.75" fill="#f5a125" stroke="#d48c2a" stroke-width="0.4"/>
<circle cx="100.7" cy="84.3" r="1.75" fill="#f5a125" stroke="#d48c2a" stroke-width="0.4"/>
<circle cx="175.7" cy="82.1" r="1.75" fill="#f5a125" stroke="#d48c2a" stroke-width="0.4"/>
<circle cx="193.8" cy="71.2" r="1.75" fill="#f5a125" stroke="#d48c2a" stroke-width="0.4"/>
<circle cx="81.8" cy="71.3" r="1.75" fill="#f5a125" stroke="#d48c2a" stroke-width="0.4"/>
<circle cx="160.8" cy="41.7" r="1.75" fill="#f5a125" stroke="#d48c2a" stroke-width="0.4"/>
<circle cx="212.3" cy="83.4" r="1.75" fill="#f5a125" stroke="#d48c2a" stroke-width="0.4"/>
<circle cx="116.1" cy="44.9" r="1.75" fill="#f5a125" stroke="#d48c2a" stroke-width="0.4"/>
<circle cx="84.5" cy="55.2" r="1.75" fill="#f5a125" stroke="#d48c2a" stroke-width="0.4"/>
<circle cx="164.9" cy="78.4" r="1.75" fill="#f5a125" stroke="#d48c2a" stroke-width="0.4"/>
<circle cx="49.7" cy="51.3" r="1.75" fill="#f5a125" stroke="#d48c2a" stroke-width="0.4"/>
<circle cx="156.3" cy="74.4" r="1.75" fill="#f5a125" stroke="#d48c2a" stroke-width="0.4"/>
<circle cx="53.3" cy="45.9" r="1.75" fill="#f5a125" stroke="#d48c2a" stroke-width="0.4"/>
<circle cx="154.5" cy="44.0" r="1.75" fill="#f5a125" stroke="#d48c2a" stroke-width="0.4"/>
<circle cx="39.7" cy="60.5" r="1.75" fill="#f5a125" stroke="#d48c2a" stroke-width="0.4"/>
<circle cx="80.9" cy="82.5" r="1.75" fill="#f5a125" stroke="#d48c2a" stroke-width="0.4"/>
<circle cx="135.5" cy="85.2" r="1.75" fill="#f5a125" stroke="#d48c2a" stroke-width="0.4"/>
<circle cx="198.3" cy="80.2" r="1.75" fill="#f5a125" stroke="#d48c2a" stroke-width="0.4"/>
<circle cx="191.0" cy="76.6" r="1.75" fill="#f5a125" stroke="#d48c2a" stroke-width="0.4"/>
<circle cx="68.1" cy="63.3" r="1.75" fill="#f5a125" stroke="#d48c2a" stroke-width="0.4"/>
<circle cx="180.7" cy="70.3" r="1.75" fill="#f5a125" stroke="#d48c2a" stroke-width="0.4"/>
<circle cx="222.7" cy="88.0" r="1.75" fill="#f5a125" stroke="#d48c2a" stroke-width="0.4"/>
<circle cx="65.0" cy="56.7" r="1.75" fill="#f5a125" stroke="#d48c2a" stroke-width="0.4"/>
<circle cx="166.7" cy="82.1" r="1.75" fill="#f5a125" stroke="#d48c2a" stroke-width="0.4"/>
<circle cx="122.9" cy="77.1" r="1.75" fill="#f5a125" stroke="#d48c2a" stroke-width="0.4"/>
<circle cx="46.5" cy="54.5" r="1.75" fill="#f5a125" stroke="#d48c2a" stroke-width="0.4"/>
<circle cx="169.4" cy="72.1" r="1.75" fill="#f5a125" stroke="#d48c2a" stroke-width="0.4"/>
<circle cx="56.0" cy="58.5" r="1.75" fill="#f5a125" stroke="#d48c2a" stroke-width="0.4"/>
<circle cx="122.9" cy="62.0" r="1.75" fill="#f5a125" stroke="#d48c2a" stroke-width="0.4"/>
<circle cx="80.4" cy="48.6" r="1.75" fill="#f5a125" stroke="#d48c2a" stroke-width="0.4"/>
<circle cx="67.8" cy="54.8" r="1.75" fill="#f5a125" stroke="#d48c2a" stroke-width="0.4"/>
<circle cx="67.9" cy="64.4" r="1.75" fill="#f5a125" stroke="#d48c2a" stroke-width="0.4"/>
<circle cx="150.9" cy="67.2" r="1.75" fill="#f5a125" stroke="#d48c2a" stroke-width="0.4"/>
<circle cx="123.8" cy="70.8" r="1.75" fill="#f5a125" stroke="#d48c2a" stroke-width="0.4"/>
<circle cx="101.6" cy="66.8" r="1.75" fill="#f5a125" stroke="#d48c2a" stroke-width="0.4"/>
<circle cx="224.9" cy="78.0" r="1.75" fill="#f5a125" stroke="#d48c2a" stroke-width="0.4"/>
<circle cx="68.7" cy="44.3" r="1.75" fill="#f5a125" stroke="#d48c2a" stroke-width="0.4"/>
<circle cx="69.6" cy="53.4" r="1.75" fill="#f5a125" stroke="#d48c2a" stroke-width="0.4"/>
<circle cx="200.1" cy="76.6" r="1.75" fill="#f5a125" stroke="#d48c2a" stroke-width="0.4"/>
<circle cx="66.7" cy="55.1" r="1.75" fill="#f5a125" stroke="#d48c2a" stroke-width="0.4"/>
<circle cx="229.0" cy="68.1" r="1.75" fill="#f5a125" stroke="#d48c2a" stroke-width="0.4"/>
<circle cx="163.5" cy="75.3" r="1.75" fill="#f5a125" stroke="#d48c2a" stroke-width="0.4"/>
<circle cx="126.1" cy="58.9" r="1.75" fill="#f5a125" stroke="#d48c2a" stroke-width="0.4"/>
<circle cx="121.5" cy="78.0" r="1.75" fill="#f5a125" stroke="#d48c2a" stroke-width="0.4"/>
<circle cx="57.8" cy="54.0" r="1.75" fill="#f5a125" stroke="#d48c2a" stroke-width="0.4"/>
<circle cx="56.0" cy="79.1" r="1.75" fill="#f5a125" stroke="#d48c2a" stroke-width="0.4"/>
<circle cx="96.2" cy="81.6" r="1.75" fill="#f5a125" stroke="#d48c2a" stroke-width="0.4"/>
<circle cx="40.7" cy="41.6" r="1.75" fill="#f5a125" stroke="#d48c2a" stroke-width="0.4"/>
<circle cx="73.3" cy="54.7" r="1.75" fill="#f5a125" stroke="#d48c2a" stroke-width="0.4"/>
<circle cx="89.9" cy="65.4" r="1.75" fill="#f5a125" stroke="#d48c2a" stroke-width="0.4"/>
<circle cx="98.0" cy="68.6" r="1.75" fill="#f5a125" stroke="#d48c2a" stroke-width="0.4"/>
<circle cx="56.0" cy="48.4" r="1.75" fill="#f5a125" stroke="#d48c2a" stroke-width="0.4"/>
<circle cx="46.3" cy="59.2" r="1.75" fill="#f5a125" stroke="#d48c2a" stroke-width="0.4"/>
<circle cx="201.9" cy="89.5" r="1.75" fill="#f5a125" stroke="#d48c2a" stroke-width="0.4"/>
<circle cx="192.9" cy="78.9" r="1.5" fill="#1414c8"/>
<circle cx="217.7" cy="96.3" r="1.5" fill="#1414c8"/>
<circle cx="151.8" cy="86.1" r="1.5" fill="#1414c8"/>
<circle cx="162.6" cy="88.0" r="1.5" fill="#1414c8"/>
<circle cx="59.6" cy="75.7" r="1.5" fill="#1414c8"/>
<circle cx="166.7" cy="96.7" r="1.5" fill="#1414c8"/>
<circle cx="161.7" cy="82.5" r="1.5" fill="#1414c8"/>
<circle cx="199.5" cy="106.3" r="1.5" fill="#1414c8"/>
<circle cx="84.5" cy="79.4" r="1.5" fill="#1414c8"/>
<circle cx="60.5" cy="71.1" r="1.5" fill="#1414c8"/>
<circle cx="114.3" cy="91.6" r="1.5" fill="#1414c8"/>
<circle cx="169.4" cy="94.0" r="1.5" fill="#1414c8"/>
<circle cx="173.9" cy="112.1" r="1.5" fill="#1414c8"/>
<circle cx="73.2" cy="82.2" r="1.5" fill="#1414c8"/>
<circle cx="96.2" cy="86.6" r="1.5" fill="#1414c8"/>
<circle cx="47.0" cy="39.4" r="1.5" fill="#1414c8"/>
<circle cx="116.5" cy="90.9" r="1.5" fill="#1414c8"/>
<circle cx="77.7" cy="55.4" r="1.5" fill="#1414c8"/>
<circle cx="237.1" cy="116.1" r="1.5" fill="#1414c8"/>
<circle cx="44.3" cy="73.9" r="1.5" fill="#1414c8"/>
<circle cx="74.1" cy="64.4" r="1.5" fill="#1414c8"/>
<circle cx="210.5" cy="115.2" r="1.5" fill="#1414c8"/>
<circle cx="234.9" cy="116.6" r="1.5" fill="#1414c8"/>
<circle cx="134.2" cy="66.3" r="1.5" fill="#1414c8"/>
<circle cx="187.0" cy="86.6" r="1.5" fill="#1414c8"/>
<circle cx="227.6" cy="113.9" r="1.5" fill="#1414c8"/>
<circle cx="99.8" cy="81.2" r="1.5" fill="#1414c8"/>
<circle cx="88.1" cy="93.4" r="1.5" fill="#1414c8"/>
<circle cx="60.5" cy="52.0" r="1.5" fill="#1414c8"/>
<circle cx="80.4" cy="79.1" r="1.5" fill="#1414c8"/>
<circle cx="153.6" cy="97.2" r="1.5" fill="#1414c8"/>
<circle cx="142.7" cy="83.9" r="1.5" fill="#1414c8"/>
<circle cx="175.7" cy="86.6" r="1.5" fill="#1414c8"/>
<circle cx="96.7" cy="74.9" r="1.5" fill="#1414c8"/>
<circle cx="86.8" cy="71.7" r="1.5" fill="#1414c8"/>
<circle cx="122.9" cy="88.9" r="1.5" fill="#1414c8"/>
<circle cx="125.6" cy="84.3" r="1.5" fill="#1414c8"/>
<circle cx="135.5" cy="92.0" r="1.5" fill="#1414c8"/>
<circle cx="82.2" cy="73.9" r="1.5" fill="#1414c8"/>
<circle cx="158.1" cy="107.1" r="1.5" fill="#1414c8"/>
<circle cx="200.1" cy="112.5" r="1.5" fill="#1414c8"/>
<circle cx="59.6" cy="79.5" r="1.5" fill="#1414c8"/>
<circle cx="59.6" cy="67.5" r="1.5" fill="#1414c8"/>
<circle cx="130.1" cy="103.1" r="1.5" fill="#1414c8"/>
<circle cx="171.2" cy="68.5" r="1.5" fill="#1414c8"/>
<circle cx="230.8" cy="113.9" r="1.5" fill="#1414c8"/>
<circle cx="108.0" cy="85.2" r="1.5" fill="#1414c8"/>
<circle cx="63.2" cy="46.1" r="1.5" fill="#1414c8"/>
<circle cx="193.8" cy="96.7" r="1.5" fill="#1414c8"/>
<circle cx="60.5" cy="46.4" r="1.5" fill="#1414c8"/>
<circle cx="121.5" cy="88.9" r="1.5" fill="#1414c8"/>
<circle cx="51.5" cy="74.8" r="1.5" fill="#1414c8"/>
<circle cx="122.8" cy="104.9" r="1.5" fill="#1414c8"/>
<circle cx="130.1" cy="99.0" r="1.5" fill="#1414c8"/>
<circle cx="140.9" cy="100.4" r="1.5" fill="#1414c8"/>
<circle cx="53.8" cy="42.1" r="1.5" fill="#1414c8"/>
<circle cx="116.5" cy="63.8" r="1.5" fill="#1414c8"/>
<circle cx="135.1" cy="62.0" r="1.5" fill="#1414c8"/>
<circle cx="117.0" cy="89.8" r="1.5" fill="#1414c8"/>
<circle cx="143.2" cy="96.8" r="1.5" fill="#1414c8"/>
<circle cx="241.2" cy="106.7" r="1.5" fill="#1414c8"/>
<circle cx="56.9" cy="66.2" r="1.5" fill="#1414c8"/>
<circle cx="211.4" cy="112.5" r="1.5" fill="#1414c8"/>
<circle cx="232.2" cy="120.2" r="1.5" fill="#1414c8"/>
<circle cx="191.0" cy="84.8" r="1.5" fill="#1414c8"/>
<circle cx="195.6" cy="85.7" r="1.5" fill="#1414c8"/>
<circle cx="162.6" cy="107.1" r="1.5" fill="#1414c8"/>
<circle cx="171.2" cy="101.2" r="1.5" fill="#1414c8"/>
<circle cx="213.2" cy="102.6" r="1.5" fill="#1414c8"/>
<circle cx="94.4" cy="78.0" r="1.5" fill="#1414c8"/>
<circle cx="91.7" cy="88.9" r="1.5" fill="#1414c8"/>
<circle cx="54.2" cy="56.3" r="1.5" fill="#1414c8"/>
<circle cx="79.5" cy="76.6" r="1.5" fill="#1414c8"/>
<circle cx="104.3" cy="78.9" r="1.5" fill="#1414c8"/>
<circle cx="139.1" cy="100.4" r="1.5" fill="#1414c8"/>
<circle cx="219.1" cy="93.4" r="1.5" fill="#1414c8"/>
<circle cx="150.9" cy="83.4" r="1.5" fill="#1414c8"/>
<path d="M38.5,49.0 L42.2,50.5 L45.9,51.9 L49.6,53.4 L53.3,54.9 L57.0,56.3 L60.7,57.7 L64.4,58.7 L68.1,59.6 L71.8,60.6 L75.5,61.6 L79.2,62.6 L82.9,63.6 L86.6,64.5 L90.3,65.5 L94.1,66.5 L97.8,67.3 L101.5,67.8 L105.2,68.3 L108.9,68.9 L112.6,69.4 L116.3,70.0 L120.0,70.5 L123.7,71.1 L127.4,71.6 L131.1,72.1 L134.8,72.7 L138.5,73.2 L142.2,73.7 L145.9,74.2 L149.6,74.7 L153.3,75.2 L157.0,75.6 L160.7,76.0 L164.4,76.4 L168.1,76.8 L171.8,77.2 L175.5,77.6 L179.2,78.0 L182.9,78.4 L186.6,78.8 L190.3,79.2 L194.0,79.6 L197.7,80.0 L201.4,80.4 L205.2,81.1 L208.9,82.0 L212.6,82.9 L216.3,83.7 L220.0,84.6 L223.7,85.5 L227.4,86.4 L231.1,87.4 L234.8,88.6 L238.5,89.9 L242.2,91.2 L245.9,92.4 L249.6,93.7 L253.3,94.9 L257.0,96.2" stroke="#f39a22" stroke-width="2.4" fill="none"/>
<path d="M38.5,163.6 V0.6 H263.0 V163.6" stroke="#000" stroke-width="1.3" fill="none"/>
<line x1="38.5" y1="163.29999999999998" x2="263.0" y2="163.29999999999998" stroke="#4a4644" stroke-width="1.6"/>
<circle cx="39.3" cy="26" r="1.7" fill="#f5a125" opacity="0.85"/>
<circle cx="39.3" cy="30" r="1.7" fill="#f5a125" opacity="0.85"/>
<circle cx="39.3" cy="34" r="1.7" fill="#f5a125" opacity="0.85"/>
<circle cx="39.3" cy="38.5" r="1.7" fill="#f5a125" opacity="0.85"/>
<circle cx="39.3" cy="43" r="1.7" fill="#f5a125" opacity="0.85"/>
<circle cx="39.3" cy="47" r="1.7" fill="#f5a125" opacity="0.85"/>
<circle cx="39.3" cy="51" r="1.7" fill="#f5a125" opacity="0.85"/>
<circle cx="39.3" cy="55" r="1.7" fill="#f5a125" opacity="0.85"/>
<circle cx="39.3" cy="59" r="1.7" fill="#f5a125" opacity="0.85"/>
<circle cx="39" cy="21" r="1.5" fill="#1414c8"/>
<circle cx="39" cy="28.5" r="1.5" fill="#1414c8"/>
<circle cx="39" cy="47.5" r="1.5" fill="#1414c8"/>
<circle cx="39" cy="74.5" r="1.5" fill="#1414c8"/>
<line x1="35.5" y1="162.3" x2="38.5" y2="162.3" stroke="#000" stroke-width="1"/>
<text x="26.6" y="165.7" font-size="10" text-anchor="middle" fill="#222" stroke="#222" stroke-width="0.3" font-weight="normal" >0</text>
<line x1="35.5" y1="140.2" x2="38.5" y2="140.2" stroke="#000" stroke-width="1"/>
<text x="26.6" y="143.6" font-size="10" text-anchor="middle" fill="#222" stroke="#222" stroke-width="0.3" font-weight="normal" >2</text>
<line x1="35.5" y1="118.1" x2="38.5" y2="118.1" stroke="#000" stroke-width="1"/>
<text x="26.6" y="121.5" font-size="10" text-anchor="middle" fill="#222" stroke="#222" stroke-width="0.3" font-weight="normal" >4</text>
<line x1="35.5" y1="96.0" x2="38.5" y2="96.0" stroke="#000" stroke-width="1"/>
<text x="26.6" y="99.4" font-size="10" text-anchor="middle" fill="#222" stroke="#222" stroke-width="0.3" font-weight="normal" >6</text>
<line x1="35.5" y1="73.9" x2="38.5" y2="73.9" stroke="#000" stroke-width="1"/>
<text x="26.6" y="77.3" font-size="10" text-anchor="middle" fill="#222" stroke="#222" stroke-width="0.3" font-weight="normal" >8</text>
<line x1="35.5" y1="51.8" x2="38.5" y2="51.8" stroke="#000" stroke-width="1"/>
<text x="27.6" y="55.2" font-size="10" text-anchor="middle" fill="#222" stroke="#222" stroke-width="0.3" font-weight="normal" >10</text>
<line x1="35.5" y1="29.7" x2="38.5" y2="29.7" stroke="#000" stroke-width="1"/>
<text x="27.6" y="33.1" font-size="10" text-anchor="middle" fill="#222" stroke="#222" stroke-width="0.3" font-weight="normal" >12</text>
<line x1="35.5" y1="7.6" x2="38.5" y2="7.6" stroke="#000" stroke-width="1"/>
<text x="27.6" y="11.0" font-size="10" text-anchor="middle" fill="#222" stroke="#222" stroke-width="0.3" font-weight="normal" >14</text>
<line x1="38.5" y1="163.6" x2="38.5" y2="166" stroke="#000" stroke-width="1"/>
<text x="39.2" y="176.9" font-size="10" text-anchor="middle" fill="#222" stroke="#222" stroke-width="0.3" font-weight="normal" >0</text>
<line x1="81.3" y1="163.6" x2="81.3" y2="166" stroke="#000" stroke-width="1"/>
<text x="82.5" y="176.9" font-size="10" text-anchor="middle" fill="#222" stroke="#222" stroke-width="0.3" font-weight="normal" >20</text>
<line x1="124.1" y1="163.6" x2="124.1" y2="166" stroke="#000" stroke-width="1"/>
<text x="125.8" y="176.9" font-size="10" text-anchor="middle" fill="#222" stroke="#222" stroke-width="0.3" font-weight="normal" >40</text>
<line x1="166.9" y1="163.6" x2="166.9" y2="166" stroke="#000" stroke-width="1"/>
<text x="169.0" y="176.9" font-size="10" text-anchor="middle" fill="#222" stroke="#222" stroke-width="0.3" font-weight="normal" >60</text>
<line x1="209.7" y1="163.6" x2="209.7" y2="166" stroke="#000" stroke-width="1"/>
<text x="212.3" y="176.9" font-size="10" text-anchor="middle" fill="#222" stroke="#222" stroke-width="0.3" font-weight="normal" >80</text>
<line x1="252.5" y1="163.6" x2="252.5" y2="166" stroke="#000" stroke-width="1"/>
<text x="255.6" y="176.9" font-size="10" text-anchor="middle" fill="#222" stroke="#222" stroke-width="0.3" font-weight="normal" >100</text>
<text x="153.0" y="187.2" font-size="9.2" text-anchor="middle" fill="#222" stroke="#222" stroke-width="0.3" font-weight="normal" >Age (years)</text>
<text x="42.3" y="14.9" font-size="17" text-anchor="start" fill="#000" stroke="#000" stroke-width="0" font-weight="bold" >A</text>
<circle cx="180.8" cy="14.8" r="1.8" fill="#f4a43a"/>
<rect x="179.7" y="24" width="2.8" height="2.8" fill="#1414c8"/>
<text x="190.0" y="18.2" font-size="11" text-anchor="start" fill="#222" stroke="#222" stroke-width="0.3" font-weight="normal" >granulocytes</text>
<text x="190.0" y="29.1" font-size="11" text-anchor="start" fill="#222" stroke="#222" stroke-width="0.3" font-weight="normal" textLength="54.3" lengthAdjust="spacingAndGlyphs">lymphocytes</text>
<text transform="translate(12.6,169.6) rotate(-90)" font-size="14.2" text-anchor="middle" fill="#111" stroke="#111" stroke-width="0.3">Telomere length (kb)</text>
<path d="M290.5,29 L329.6,122.3 L391.5,135.5" stroke="#dc5a5a" stroke-width="1.8" stroke-dasharray="1 1" fill="none"/>
<path d="M290.5,75.5 L315,125 L386,137" stroke="#111" stroke-width="1.6" stroke-dasharray="1 1" fill="none"/>
<path d="M403,10 L442,116 L512,128.5" stroke="#dc5a5a" stroke-width="1.8" stroke-dasharray="1 1" fill="none"/>
<path d="M402.5,60 L442,128 L512,136.5" stroke="#111" stroke-width="1.6" stroke-dasharray="1 1" fill="none"/>
<path d="M495.0,132.2 L496.8,135.4 L493.2,135.4 Z" fill="#2ee02e"/>
<path d="M294.6,77.7 L296.4,80.9 L292.8,80.9 Z" fill="#2ee02e"/>
<path d="M416.2,74.8 L418.0,78.0 L414.4,78.0 Z" fill="#2ee02e"/>
<ellipse cx="480.0" cy="130.0" rx="1.2" ry="1.45" fill="#d41830"/>
<rect x="492.2" y="138.2" width="2.5" height="2.5" fill="#000"/>
<path d="M309.6,104.6 L311.4,107.9 L307.8,107.9 Z" fill="#2ee02e"/>
<path d="M299.8,90.6 L301.6,93.8 L298.0,93.8 Z" fill="#2ee02e"/>
<ellipse cx="323.4" cy="102.7" rx="1.2" ry="1.45" fill="#d41830"/>
<ellipse cx="418.0" cy="51.5" rx="1.2" ry="1.45" fill="#d41830"/>
<ellipse cx="490.5" cy="117.0" rx="1.2" ry="1.45" fill="#d41830"/>
<ellipse cx="387.1" cy="144.6" rx="1.2" ry="1.45" fill="#d41830"/>
<ellipse cx="416.0" cy="43.0" rx="1.2" ry="1.45" fill="#d41830"/>
<ellipse cx="373.2" cy="146.1" rx="1.2" ry="1.45" fill="#d41830"/>
<rect x="362.6" y="141.8" width="2.5" height="2.5" fill="#000"/>
<rect x="322.2" y="116.8" width="2.5" height="2.5" fill="#000"/>
<rect x="291.8" y="75.5" width="2.5" height="2.5" fill="#000"/>
<ellipse cx="417.0" cy="44.0" rx="1.2" ry="1.45" fill="#d41830"/>
<ellipse cx="491.5" cy="112.0" rx="1.2" ry="1.45" fill="#d41830"/>
<rect x="415.8" y="85.8" width="2.5" height="2.5" fill="#000"/>
<rect x="376.1" y="137.2" width="2.5" height="2.5" fill="#000"/>
<rect x="475.8" y="133.2" width="2.5" height="2.5" fill="#000"/>
<path d="M327.0,117.4 L328.8,120.6 L325.2,120.6 Z" fill="#2ee02e"/>
<rect x="363.8" y="144.8" width="2.5" height="2.5" fill="#000"/>
<path d="M441.0,119.2 L442.8,122.4 L439.2,122.4 Z" fill="#2ee02e"/>
<ellipse cx="314.8" cy="107.2" rx="1.2" ry="1.45" fill="#d41830"/>
<rect x="414.8" y="96.8" width="2.5" height="2.5" fill="#000"/>
<ellipse cx="290.5" cy="42.3" rx="1.2" ry="1.45" fill="#d41830"/>
<rect x="489.2" y="124.8" width="2.5" height="2.5" fill="#000"/>
<path d="M292.0,74.1 L293.8,77.3 L290.2,77.3 Z" fill="#2ee02e"/>
<path d="M423.0,83.2 L424.8,86.4 L421.2,86.4 Z" fill="#2ee02e"/>
<path d="M436.5,104.2 L438.3,107.4 L434.7,107.4 Z" fill="#2ee02e"/>
<rect x="313.4" y="123.7" width="2.5" height="2.5" fill="#000"/>
<path d="M300.3,85.7 L302.1,88.9 L298.5,88.9 Z" fill="#2ee02e"/>
<rect x="466.2" y="111.2" width="2.5" height="2.5" fill="#000"/>
<path d="M406.0,46.2 L407.8,49.4 L404.2,49.4 Z" fill="#2ee02e"/>
<path d="M303.4,89.4 L305.2,92.6 L301.6,92.6 Z" fill="#2ee02e"/>
<path d="M421.6,87.2 L423.4,90.4 L419.8,90.4 Z" fill="#2ee02e"/>
<ellipse cx="406.0" cy="17.0" rx="1.2" ry="1.45" fill="#d41830"/>
<ellipse cx="373.7" cy="144.9" rx="1.2" ry="1.45" fill="#d41830"/>
<ellipse cx="308.6" cy="89.2" rx="1.2" ry="1.45" fill="#d41830"/>
<rect x="470.2" y="102.2" width="2.5" height="2.5" fill="#000"/>
<ellipse cx="358.2" cy="105.5" rx="1.2" ry="1.45" fill="#d41830"/>
<rect x="467.8" y="115.8" width="2.5" height="2.5" fill="#000"/>
<path d="M404.0,118.2 L405.8,121.4 L402.2,121.4 Z" fill="#2ee02e"/>
<path d="M293.2,81.5 L295.0,84.7 L291.4,84.7 Z" fill="#2ee02e"/>
<rect x="427.2" y="129.2" width="2.5" height="2.5" fill="#000"/>
<ellipse cx="301.9" cy="56.7" rx="1.2" ry="1.45" fill="#d41830"/>
<ellipse cx="443.0" cy="87.3" rx="1.2" ry="1.45" fill="#d41830"/>
<rect x="497.2" y="136.2" width="2.5" height="2.5" fill="#000"/>
<path d="M406.5,53.2 L408.3,56.4 L404.7,56.4 Z" fill="#2ee02e"/>
<rect x="428.2" y="115.8" width="2.5" height="2.5" fill="#000"/>
<path d="M411.0,61.2 L412.8,64.4 L409.2,64.4 Z" fill="#2ee02e"/>
<rect x="290.6" y="73.9" width="2.5" height="2.5" fill="#000"/>
<path d="M301.4,82.4 L303.2,85.7 L299.6,85.7 Z" fill="#2ee02e"/>
<rect x="293.4" y="95.7" width="2.5" height="2.5" fill="#000"/>
<path d="M408.5,49.4 L410.3,52.7 L406.7,52.7 Z" fill="#2ee02e"/>
<path d="M418.0,70.2 L419.8,73.4 L416.2,73.4 Z" fill="#2ee02e"/>
<path d="M369.0,124.5 L370.8,127.7 L367.2,127.7 Z" fill="#2ee02e"/>
<ellipse cx="323.0" cy="115.9" rx="1.2" ry="1.45" fill="#d41830"/>
<rect x="351.2" y="115.8" width="2.5" height="2.5" fill="#000"/>
<ellipse cx="351.0" cy="103.9" rx="1.2" ry="1.45" fill="#d41830"/>
<ellipse cx="414.0" cy="25.0" rx="1.2" ry="1.45" fill="#d41830"/>
<path d="M408.0,54.7 L409.8,57.9 L406.2,57.9 Z" fill="#2ee02e"/>
<path d="M405.3,58.2 L407.1,61.4 L403.5,61.4 Z" fill="#2ee02e"/>
<ellipse cx="411.5" cy="19.5" rx="1.2" ry="1.45" fill="#d41830"/>
<path d="M323.4,110.2 L325.2,113.4 L321.6,113.4 Z" fill="#2ee02e"/>
<path d="M437.5,109.2 L439.3,112.4 L435.7,112.4 Z" fill="#2ee02e"/>
<ellipse cx="307.6" cy="54.7" rx="1.2" ry="1.45" fill="#d41830"/>
<rect x="309.9" y="91.0" width="2.5" height="2.5" fill="#000"/>
<rect x="302.8" y="111.0" width="2.5" height="2.5" fill="#000"/>
<rect x="373.4" y="139.8" width="2.5" height="2.5" fill="#000"/>
<path d="M477.0,114.7 L478.8,117.9 L475.2,117.9 Z" fill="#2ee02e"/>
<rect x="365.2" y="140.8" width="2.5" height="2.5" fill="#000"/>
<ellipse cx="291.1" cy="25.3" rx="1.2" ry="1.45" fill="#d41830"/>
<path d="M376.0,113.7 L377.8,116.9 L374.2,116.9 Z" fill="#2ee02e"/>
<rect x="300.1" y="95.0" width="2.5" height="2.5" fill="#000"/>
<ellipse cx="376.8" cy="130.2" rx="1.2" ry="1.45" fill="#d41830"/>
<path d="M428.5,135.7 L430.3,138.9 L426.7,138.9 Z" fill="#2ee02e"/>
<ellipse cx="409.0" cy="11.5" rx="1.2" ry="1.45" fill="#d41830"/>
<ellipse cx="300.9" cy="39.2" rx="1.2" ry="1.45" fill="#d41830"/>
<rect x="413.8" y="90.8" width="2.5" height="2.5" fill="#000"/>
<path d="M493.5,129.7 L495.3,132.9 L491.7,132.9 Z" fill="#2ee02e"/>
<ellipse cx="435.0" cy="111.0" rx="1.2" ry="1.45" fill="#d41830"/>
<path d="M418.0,90.2 L419.8,93.4 L416.2,93.4 Z" fill="#2ee02e"/>
<ellipse cx="368.6" cy="138.4" rx="1.2" ry="1.45" fill="#d41830"/>
<ellipse cx="304.0" cy="66.0" rx="1.2" ry="1.45" fill="#d41830"/>
<path d="M405.0,57.4 L406.8,60.6 L403.2,60.6 Z" fill="#2ee02e"/>
<path d="M291.5,82.5 L293.3,85.7 L289.7,85.7 Z" fill="#2ee02e"/>
<ellipse cx="465.0" cy="107.0" rx="1.2" ry="1.45" fill="#d41830"/>
<ellipse cx="424.7" cy="68.5" rx="1.2" ry="1.45" fill="#d41830"/>
<ellipse cx="324.4" cy="97.6" rx="1.2" ry="1.45" fill="#d41830"/>
<path d="M306.5,95.6 L308.3,98.8 L304.7,98.8 Z" fill="#2ee02e"/>
<ellipse cx="422.4" cy="72.4" rx="1.2" ry="1.45" fill="#d41830"/>
<ellipse cx="301.4" cy="53.6" rx="1.2" ry="1.45" fill="#d41830"/>
<rect x="305.2" y="113.7" width="2.5" height="2.5" fill="#000"/>
<path d="M477.0,105.2 L478.8,108.4 L475.2,108.4 Z" fill="#2ee02e"/>
<ellipse cx="406.0" cy="22.5" rx="1.2" ry="1.45" fill="#d41830"/>
<path d="M296.9,76.7 L298.7,79.9 L295.1,79.9 Z" fill="#2ee02e"/>
<ellipse cx="437.5" cy="96.5" rx="1.2" ry="1.45" fill="#d41830"/>
<path d="M312.1,117.9 L313.9,121.1 L310.3,121.1 Z" fill="#2ee02e"/>
<rect x="403.2" y="60.8" width="2.5" height="2.5" fill="#000"/>
<path d="M417.5,88.2 L419.3,91.4 L415.7,91.4 Z" fill="#2ee02e"/>
<path d="M312.7,114.1 L314.5,117.3 L310.9,117.3 Z" fill="#2ee02e"/>
<ellipse cx="304.0" cy="53.1" rx="1.2" ry="1.45" fill="#d41830"/>
<rect x="293.9" y="81.8" width="2.5" height="2.5" fill="#000"/>
<ellipse cx="441.0" cy="97.0" rx="1.2" ry="1.45" fill="#d41830"/>
<ellipse cx="302.4" cy="52.6" rx="1.2" ry="1.45" fill="#d41830"/>
<rect x="482.8" y="125.8" width="2.5" height="2.5" fill="#000"/>
<path d="M292.1,80.5 L293.9,83.7 L290.3,83.7 Z" fill="#2ee02e"/>
<rect x="463.8" y="113.8" width="2.5" height="2.5" fill="#000"/>
<ellipse cx="419.0" cy="43.0" rx="1.2" ry="1.45" fill="#d41830"/>
<ellipse cx="486.5" cy="97.8" rx="1.2" ry="1.45" fill="#d41830"/>
<rect x="327.4" y="122.7" width="2.5" height="2.5" fill="#000"/>
<ellipse cx="324.6" cy="97.4" rx="1.2" ry="1.45" fill="#d41830"/>
<ellipse cx="502.0" cy="130.5" rx="1.2" ry="1.45" fill="#d41830"/>
<rect x="297.1" y="84.8" width="2.5" height="2.5" fill="#000"/>
<rect x="314.6" y="108.0" width="2.5" height="2.5" fill="#000"/>
<path d="M322.4,123.1 L324.2,126.3 L320.6,126.3 Z" fill="#2ee02e"/>
<path d="M324.6,117.2 L326.4,120.4 L322.8,120.4 Z" fill="#2ee02e"/>
<rect x="363.1" y="142.1" width="2.5" height="2.5" fill="#000"/>
<rect x="418.8" y="100.2" width="2.5" height="2.5" fill="#000"/>
<path d="M352.8,119.9 L354.6,123.1 L351.0,123.1 Z" fill="#2ee02e"/>
<rect x="297.9" y="83.3" width="2.5" height="2.5" fill="#000"/>
<path d="M298.2,71.3 L300.0,74.5 L296.4,74.5 Z" fill="#2ee02e"/>
<rect x="296.6" y="85.2" width="2.5" height="2.5" fill="#000"/>
<path d="M405.0,50.2 L406.8,53.4 L403.2,53.4 Z" fill="#2ee02e"/>
<path d="M324.7,114.2 L326.5,117.4 L322.9,117.4 Z" fill="#2ee02e"/>
<ellipse cx="379.1" cy="141.8" rx="1.2" ry="1.45" fill="#d41830"/>
<ellipse cx="294.2" cy="30.5" rx="1.2" ry="1.45" fill="#d41830"/>
<path d="M408.3,51.5 L410.1,54.7 L406.5,54.7 Z" fill="#2ee02e"/>
<rect x="478.2" y="130.8" width="2.5" height="2.5" fill="#000"/>
<path d="M315.7,106.8 L317.5,110.1 L313.9,110.1 Z" fill="#2ee02e"/>
<path d="M301.8,73.5 L303.6,76.7 L300.0,76.7 Z" fill="#2ee02e"/>
<ellipse cx="309.6" cy="69.1" rx="1.2" ry="1.45" fill="#d41830"/>
<ellipse cx="322.4" cy="116.6" rx="1.2" ry="1.45" fill="#d41830"/>
<ellipse cx="328.2" cy="94.3" rx="1.2" ry="1.45" fill="#d41830"/>
<rect x="468.8" y="117.8" width="2.5" height="2.5" fill="#000"/>
<rect x="501.8" y="139.2" width="2.5" height="2.5" fill="#000"/>
<path d="M301.4,85.2 L303.2,88.4 L299.6,88.4 Z" fill="#2ee02e"/>
<path d="M424.0,95.2 L425.8,98.4 L422.2,98.4 Z" fill="#2ee02e"/>
<path d="M411.4,65.7 L413.2,69.0 L409.6,69.0 Z" fill="#2ee02e"/>
<ellipse cx="428.0" cy="91.0" rx="1.2" ry="1.45" fill="#d41830"/>
<ellipse cx="427.8" cy="91.5" rx="1.2" ry="1.45" fill="#d41830"/>
<path d="M483.0,121.2 L484.8,124.4 L481.2,124.4 Z" fill="#2ee02e"/>
<rect x="402.2" y="124.8" width="2.5" height="2.5" fill="#000"/>
<rect x="425.2" y="107.2" width="2.5" height="2.5" fill="#000"/>
<rect x="322.1" y="121.5" width="2.5" height="2.5" fill="#000"/>
<ellipse cx="438.5" cy="101.5" rx="1.2" ry="1.45" fill="#d41830"/>
<rect x="324.4" y="119.3" width="2.5" height="2.5" fill="#000"/>
<ellipse cx="421.0" cy="51.5" rx="1.2" ry="1.45" fill="#d41830"/>
<path d="M465.0,115.2 L466.8,118.4 L463.2,118.4 Z" fill="#2ee02e"/>
<path d="M329.6,106.1 L331.4,109.3 L327.8,109.3 Z" fill="#2ee02e"/>
<rect x="364.8" y="140.6" width="2.5" height="2.5" fill="#000"/>
<ellipse cx="426.0" cy="89.5" rx="1.2" ry="1.45" fill="#d41830"/>
<rect x="406.8" y="70.8" width="2.5" height="2.5" fill="#000"/>
<path d="M307.3,93.3 L309.1,96.5 L305.5,96.5 Z" fill="#2ee02e"/>
<path d="M405.3,51.2 L407.1,54.4 L403.5,54.4 Z" fill="#2ee02e"/>
<rect x="434.8" y="121.2" width="2.5" height="2.5" fill="#000"/>
<ellipse cx="329.6" cy="95.5" rx="1.2" ry="1.45" fill="#d41830"/>
<path d="M418.9,78.3 L420.7,81.5 L417.1,81.5 Z" fill="#2ee02e"/>
<ellipse cx="411.0" cy="33.0" rx="1.2" ry="1.45" fill="#d41830"/>
<ellipse cx="470.5" cy="106.5" rx="1.2" ry="1.45" fill="#d41830"/>
<ellipse cx="413.0" cy="23.5" rx="1.2" ry="1.45" fill="#d41830"/>
<ellipse cx="404.5" cy="15.0" rx="1.2" ry="1.45" fill="#d41830"/>
<rect x="371.9" y="145.3" width="2.5" height="2.5" fill="#000"/>
<path d="M421.4,83.6 L423.2,86.9 L419.6,86.9 Z" fill="#2ee02e"/>
<path d="M300.5,92.9 L302.3,96.1 L298.7,96.1 Z" fill="#2ee02e"/>
<ellipse cx="436.0" cy="100.0" rx="1.2" ry="1.45" fill="#d41830"/>
<ellipse cx="403.5" cy="22.0" rx="1.2" ry="1.45" fill="#d41830"/>
<ellipse cx="327.0" cy="110.5" rx="1.2" ry="1.45" fill="#d41830"/>
<path d="M427.5,109.2 L429.3,112.4 L425.7,112.4 Z" fill="#2ee02e"/>
<ellipse cx="437.1" cy="74.0" rx="1.2" ry="1.45" fill="#d41830"/>
<rect x="417.8" y="88.2" width="2.5" height="2.5" fill="#000"/>
<ellipse cx="481.7" cy="110.0" rx="1.2" ry="1.45" fill="#d41830"/>
<ellipse cx="418.5" cy="25.0" rx="1.2" ry="1.45" fill="#d41830"/>
<rect x="438.2" y="121.2" width="2.5" height="2.5" fill="#000"/>
<rect x="386.4" y="145.2" width="2.5" height="2.5" fill="#000"/>
<path d="M386.0,126.8 L387.8,130.0 L384.2,130.0 Z" fill="#2ee02e"/>
<path d="M357.5,108.3 L359.3,111.5 L355.7,111.5 Z" fill="#2ee02e"/>
<ellipse cx="304.5" cy="53.7" rx="1.2" ry="1.45" fill="#d41830"/>
<path d="M422.0,94.2 L423.8,97.4 L420.2,97.4 Z" fill="#2ee02e"/>
<rect x="383.8" y="139.2" width="2.5" height="2.5" fill="#000"/>
<ellipse cx="410.0" cy="28.0" rx="1.2" ry="1.45" fill="#d41830"/>
<path d="M372.9,129.2 L374.7,132.4 L371.1,132.4 Z" fill="#2ee02e"/>
<path d="M307.6,107.9 L309.4,111.1 L305.8,111.1 Z" fill="#2ee02e"/>
<rect x="293.9" y="83.2" width="2.5" height="2.5" fill="#000"/>
<path d="M321.0,108.6 L322.8,111.9 L319.2,111.9 Z" fill="#2ee02e"/>
<rect x="427.8" y="124.8" width="2.5" height="2.5" fill="#000"/>
<path d="M485.0,124.2 L486.8,127.4 L483.2,127.4 Z" fill="#2ee02e"/>
<rect x="289.2" y="72.5" width="2.5" height="2.5" fill="#000"/>
<rect x="297.4" y="81.3" width="2.5" height="2.5" fill="#000"/>
<rect x="490.8" y="136.8" width="2.5" height="2.5" fill="#000"/>
<path d="M420.9,87.5 L422.7,90.7 L419.1,90.7 Z" fill="#2ee02e"/>
<path d="M410.5,60.7 L412.3,63.9 L408.7,63.9 Z" fill="#2ee02e"/>
<rect x="386.9" y="145.9" width="2.5" height="2.5" fill="#000"/>
<path d="M412.0,63.2 L413.8,66.4 L410.2,66.4 Z" fill="#2ee02e"/>
<rect x="498.8" y="143.8" width="2.5" height="2.5" fill="#000"/>
<rect x="291.2" y="88.7" width="2.5" height="2.5" fill="#000"/>
<ellipse cx="307.0" cy="60.8" rx="1.2" ry="1.45" fill="#d41830"/>
<ellipse cx="408.0" cy="37.0" rx="1.2" ry="1.45" fill="#d41830"/>
<ellipse cx="324.0" cy="103.0" rx="1.2" ry="1.45" fill="#d41830"/>
<path d="M363.6,121.4 L365.4,124.6 L361.8,124.6 Z" fill="#2ee02e"/>
<path d="M302.5,87.6 L304.3,90.9 L300.7,90.9 Z" fill="#2ee02e"/>
<ellipse cx="308.6" cy="89.6" rx="1.2" ry="1.45" fill="#d41830"/>
<ellipse cx="415.5" cy="42.5" rx="1.2" ry="1.45" fill="#d41830"/>
<path d="M323.7,118.0 L325.5,121.3 L321.9,121.3 Z" fill="#2ee02e"/>
<path d="M379.9,117.6 L381.7,120.8 L378.1,120.8 Z" fill="#2ee02e"/>
<rect x="314.9" y="107.7" width="2.5" height="2.5" fill="#000"/>
<path d="M388.6,127.8 L390.4,131.0 L386.8,131.0 Z" fill="#2ee02e"/>
<ellipse cx="369.8" cy="139.5" rx="1.2" ry="1.45" fill="#d41830"/>
<path d="M325.5,112.3 L327.3,115.5 L323.7,115.5 Z" fill="#2ee02e"/>
<path d="M377.5,123.7 L379.3,126.9 L375.7,126.9 Z" fill="#2ee02e"/>
<rect x="406.8" y="95.8" width="2.5" height="2.5" fill="#000"/>
<ellipse cx="313.7" cy="105.1" rx="1.2" ry="1.45" fill="#d41830"/>
<path d="M425.0,98.7 L426.8,101.9 L423.2,101.9 Z" fill="#2ee02e"/>
<ellipse cx="427.2" cy="80.2" rx="1.2" ry="1.45" fill="#d41830"/>
<rect x="308.4" y="103.3" width="2.5" height="2.5" fill="#000"/>
<rect x="421.8" y="103.8" width="2.5" height="2.5" fill="#000"/>
<path d="M423.0,93.2 L424.8,96.4 L421.2,96.4 Z" fill="#2ee02e"/>
<rect x="415.8" y="95.2" width="2.5" height="2.5" fill="#000"/>
<rect x="413.2" y="91.8" width="2.5" height="2.5" fill="#000"/>
<path d="M295.9,71.5 L297.7,74.8 L294.1,74.8 Z" fill="#2ee02e"/>
<path d="M474.0,123.2 L475.8,126.4 L472.2,126.4 Z" fill="#2ee02e"/>
<path d="M466.0,109.7 L467.8,112.9 L464.2,112.9 Z" fill="#2ee02e"/>
<rect x="383.2" y="138.2" width="2.5" height="2.5" fill="#000"/>
<ellipse cx="326.5" cy="103.8" rx="1.2" ry="1.45" fill="#d41830"/>
<path d="M304.2,95.4 L306.0,98.6 L302.4,98.6 Z" fill="#2ee02e"/>
<ellipse cx="436.2" cy="89.5" rx="1.2" ry="1.45" fill="#d41830"/>
<rect x="302.1" y="105.3" width="2.5" height="2.5" fill="#000"/>
<ellipse cx="299.3" cy="30.5" rx="1.2" ry="1.45" fill="#d41830"/>
<path d="M387.6,127.6 L389.4,130.8 L385.8,130.8 Z" fill="#2ee02e"/>
<path d="M290.9,66.8 L292.7,70.1 L289.1,70.1 Z" fill="#2ee02e"/>
<path d="M420.0,90.2 L421.8,93.4 L418.2,93.4 Z" fill="#2ee02e"/>
<ellipse cx="302.9" cy="68.6" rx="1.2" ry="1.45" fill="#d41830"/>
<rect x="411.8" y="75.8" width="2.5" height="2.5" fill="#000"/>
<ellipse cx="416.5" cy="46.0" rx="1.2" ry="1.45" fill="#d41830"/>
<rect x="309.8" y="117.5" width="2.5" height="2.5" fill="#000"/>
<path d="M418.5,85.5 L420.3,88.7 L416.7,88.7 Z" fill="#2ee02e"/>
<ellipse cx="325.5" cy="122.3" rx="1.2" ry="1.45" fill="#d41830"/>
<rect x="406.8" y="95.8" width="2.5" height="2.5" fill="#000"/>
<path d="M299.9,79.9 L301.7,83.2 L298.1,83.2 Z" fill="#2ee02e"/>
<ellipse cx="356.7" cy="99.6" rx="1.2" ry="1.45" fill="#d41830"/>
<path d="M291.3,65.5 L293.1,68.8 L289.5,68.8 Z" fill="#2ee02e"/>
<ellipse cx="436.5" cy="78.6" rx="1.2" ry="1.45" fill="#d41830"/>
<path d="M298.1,72.8 L299.9,76.1 L296.3,76.1 Z" fill="#2ee02e"/>
<path d="M404.4,45.3 L406.2,48.5 L402.6,48.5 Z" fill="#2ee02e"/>
<path d="M300.9,73.2 L302.7,76.4 L299.1,76.4 Z" fill="#2ee02e"/>
<path d="M294.7,76.0 L296.5,79.2 L292.9,79.2 Z" fill="#2ee02e"/>
<ellipse cx="417.0" cy="37.5" rx="1.2" ry="1.45" fill="#d41830"/>
<ellipse cx="293.1" cy="28.4" rx="1.2" ry="1.45" fill="#d41830"/>
<path d="M326.4,115.8 L328.2,119.1 L324.6,119.1 Z" fill="#2ee02e"/>
<path d="M314.3,111.0 L316.1,114.2 L312.5,114.2 Z" fill="#2ee02e"/>
<path d="M480.0,116.2 L481.8,119.4 L478.2,119.4 Z" fill="#2ee02e"/>
<ellipse cx="292.1" cy="32.0" rx="1.2" ry="1.45" fill="#d41830"/>
<rect x="307.9" y="114.7" width="2.5" height="2.5" fill="#000"/>
<rect x="474.8" y="134.8" width="2.5" height="2.5" fill="#000"/>
<rect x="412.8" y="78.8" width="2.5" height="2.5" fill="#000"/>
<rect x="372.4" y="144.3" width="2.5" height="2.5" fill="#000"/>
<rect x="405.2" y="62.8" width="2.5" height="2.5" fill="#000"/>
<rect x="374.8" y="126.7" width="2.5" height="2.5" fill="#000"/>
<ellipse cx="306.0" cy="83.0" rx="1.2" ry="1.45" fill="#d41830"/>
<ellipse cx="420.0" cy="53.0" rx="1.2" ry="1.45" fill="#d41830"/>
<rect x="409.8" y="73.8" width="2.5" height="2.5" fill="#000"/>
<ellipse cx="467.0" cy="113.0" rx="1.2" ry="1.45" fill="#d41830"/>
<path d="M423.0,111.2 L424.8,114.4 L421.2,114.4 Z" fill="#2ee02e"/>
<rect x="355.4" y="116.5" width="2.5" height="2.5" fill="#000"/>
<ellipse cx="311.0" cy="105.3" rx="1.2" ry="1.45" fill="#d41830"/>
<path d="M428.5,120.2 L430.3,123.4 L426.7,123.4 Z" fill="#2ee02e"/>
<ellipse cx="500.5" cy="130.5" rx="1.2" ry="1.45" fill="#d41830"/>
<rect x="408.8" y="71.8" width="2.5" height="2.5" fill="#000"/>
<path d="M465.5,124.2 L467.3,127.4 L463.7,127.4 Z" fill="#2ee02e"/>
<ellipse cx="296.2" cy="45.4" rx="1.2" ry="1.45" fill="#d41830"/>
<path d="M386.6,127.3 L388.4,130.5 L384.8,130.5 Z" fill="#2ee02e"/>
<path d="M408.0,57.2 L409.8,60.4 L406.2,60.4 Z" fill="#2ee02e"/>
<ellipse cx="419.3" cy="76.6" rx="1.2" ry="1.45" fill="#d41830"/>
<rect x="292.8" y="71.1" width="2.5" height="2.5" fill="#000"/>
<rect x="310.9" y="109.2" width="2.5" height="2.5" fill="#000"/>
<ellipse cx="372.9" cy="121.7" rx="1.2" ry="1.45" fill="#d41830"/>
<path d="M297.4,67.0 L299.2,70.2 L295.6,70.2 Z" fill="#2ee02e"/>
<ellipse cx="485.0" cy="118.0" rx="1.2" ry="1.45" fill="#d41830"/>
<path d="M304.5,96.1 L306.3,99.3 L302.7,99.3 Z" fill="#2ee02e"/>
<rect x="304.2" y="108.0" width="2.5" height="2.5" fill="#000"/>
<ellipse cx="468.8" cy="92.5" rx="1.2" ry="1.45" fill="#d41830"/>
<path d="M471.5,111.7 L473.3,114.9 L469.7,114.9 Z" fill="#2ee02e"/>
<ellipse cx="389.7" cy="150.8" rx="1.2" ry="1.45" fill="#d41830"/>
<path d="M312.2,109.5 L314.0,112.7 L310.4,112.7 Z" fill="#2ee02e"/>
<ellipse cx="408.5" cy="31.0" rx="1.2" ry="1.45" fill="#d41830"/>
<rect x="323.1" y="124.7" width="2.5" height="2.5" fill="#000"/>
<rect x="301.1" y="99.2" width="2.5" height="2.5" fill="#000"/>
<ellipse cx="413.0" cy="43.5" rx="1.2" ry="1.45" fill="#d41830"/>
<ellipse cx="498.5" cy="142.5" rx="1.2" ry="1.45" fill="#d41830"/>
<ellipse cx="305.0" cy="63.4" rx="1.2" ry="1.45" fill="#d41830"/>
<path d="M413.5,65.7 L415.3,68.9 L411.7,68.9 Z" fill="#2ee02e"/>
<path d="M489.0,108.2 L490.8,111.4 L487.2,111.4 Z" fill="#2ee02e"/>
<path d="M307.8,101.3 L309.6,104.6 L306.0,104.6 Z" fill="#2ee02e"/>
<rect x="290.9" y="78.7" width="2.5" height="2.5" fill="#000"/>
<path d="M428.0,102.2 L429.8,105.4 L426.2,105.4 Z" fill="#2ee02e"/>
<rect x="292.5" y="76.5" width="2.5" height="2.5" fill="#000"/>
<path d="M292.2,83.6 L294.0,86.9 L290.4,86.9 Z" fill="#2ee02e"/>
<path d="M351.3,106.7 L353.1,109.9 L349.5,109.9 Z" fill="#2ee02e"/>
<path d="M324.0,110.5 L325.8,113.7 L322.2,113.7 Z" fill="#2ee02e"/>
<rect x="487.8" y="126.2" width="2.5" height="2.5" fill="#000"/>
<path d="M316.2,114.8 L318.0,118.0 L314.4,118.0 Z" fill="#2ee02e"/>
<rect x="498.2" y="145.8" width="2.5" height="2.5" fill="#000"/>
<path d="M300.8,92.0 L302.6,95.2 L299.0,95.2 Z" fill="#2ee02e"/>
<path d="M366.7,126.8 L368.5,130.0 L364.9,130.0 Z" fill="#2ee02e"/>
<ellipse cx="439.0" cy="106.0" rx="1.2" ry="1.45" fill="#d41830"/>
<path d="M300.5,71.0 L302.3,74.3 L298.7,74.3 Z" fill="#2ee02e"/>
<rect x="294.9" y="73.0" width="2.5" height="2.5" fill="#000"/>
<path d="M324.4,115.9 L326.2,119.1 L322.6,119.1 Z" fill="#2ee02e"/>
<path d="M311.0,123.1 L312.8,126.3 L309.2,126.3 Z" fill="#2ee02e"/>
<path d="M312.1,109.7 L313.9,112.9 L310.3,112.9 Z" fill="#2ee02e"/>
<ellipse cx="295.2" cy="43.4" rx="1.2" ry="1.45" fill="#d41830"/>
<rect x="385.6" y="142.8" width="2.5" height="2.5" fill="#000"/>
<ellipse cx="493.0" cy="118.5" rx="1.2" ry="1.45" fill="#d41830"/>
<ellipse cx="311.2" cy="105.1" rx="1.2" ry="1.45" fill="#d41830"/>
<rect x="368.6" y="131.2" width="2.5" height="2.5" fill="#000"/>
<path d="M315.2,112.3 L317.0,115.5 L313.4,115.5 Z" fill="#2ee02e"/>
<path d="M441.0,116.7 L442.8,119.9 L439.2,119.9 Z" fill="#2ee02e"/>
<path d="M492.0,118.2 L493.8,121.4 L490.2,121.4 Z" fill="#2ee02e"/>
<rect x="498.8" y="140.2" width="2.5" height="2.5" fill="#000"/>
<rect x="308.9" y="118.8" width="2.5" height="2.5" fill="#000"/>
<ellipse cx="353.6" cy="126.3" rx="1.2" ry="1.45" fill="#d41830"/>
<path d="M308.1,97.1 L309.9,100.3 L306.3,100.3 Z" fill="#2ee02e"/>
<ellipse cx="310.1" cy="94.3" rx="1.2" ry="1.45" fill="#d41830"/>
<ellipse cx="297.8" cy="34.6" rx="1.2" ry="1.45" fill="#d41830"/>
<ellipse cx="407.0" cy="11.0" rx="1.2" ry="1.45" fill="#d41830"/>
<rect x="413.8" y="82.8" width="2.5" height="2.5" fill="#000"/>
<path d="M319.8,111.5 L321.6,114.8 L318.0,114.8 Z" fill="#2ee02e"/>
<rect x="426.2" y="112.8" width="2.5" height="2.5" fill="#000"/>
<ellipse cx="295.7" cy="27.9" rx="1.2" ry="1.45" fill="#d41830"/>
<ellipse cx="386.0" cy="137.9" rx="1.2" ry="1.45" fill="#d41830"/>
<ellipse cx="292.6" cy="23.2" rx="1.2" ry="1.45" fill="#d41830"/>
<path d="M415.5,76.0 L417.3,79.3 L413.7,79.3 Z" fill="#2ee02e"/>
<path d="M488.5,111.7 L490.3,114.9 L486.7,114.9 Z" fill="#2ee02e"/>
<path d="M305.5,100.7 L307.3,103.9 L303.7,103.9 Z" fill="#2ee02e"/>
<path d="M326.6,113.1 L328.4,116.3 L324.8,116.3 Z" fill="#2ee02e"/>
<rect x="373.2" y="139.8" width="2.5" height="2.5" fill="#000"/>
<rect x="363.9" y="144.3" width="2.5" height="2.5" fill="#000"/>
<path d="M490.0,119.2 L491.8,122.4 L488.2,122.4 Z" fill="#2ee02e"/>
<ellipse cx="298.3" cy="37.2" rx="1.2" ry="1.45" fill="#d41830"/>
<ellipse cx="402.5" cy="81.8" rx="1.2" ry="1.45" fill="#d41830"/>
<rect x="290.2" y="71.4" width="2.5" height="2.5" fill="#000"/>
<ellipse cx="371.1" cy="137.9" rx="1.2" ry="1.45" fill="#d41830"/>
<path d="M295.4,68.4 L297.2,71.7 L293.6,71.7 Z" fill="#2ee02e"/>
<rect x="370.1" y="135.2" width="2.5" height="2.5" fill="#000"/>
<path d="M294.5,74.9 L296.3,78.1 L292.7,78.1 Z" fill="#2ee02e"/>
<rect x="483.8" y="131.8" width="2.5" height="2.5" fill="#000"/>
<path d="M298.2,78.1 L300.0,81.3 L296.4,81.3 Z" fill="#2ee02e"/>
<path d="M418.0,84.2 L419.8,87.4 L416.2,87.4 Z" fill="#2ee02e"/>
<path d="M324.3,113.8 L326.1,117.0 L322.5,117.0 Z" fill="#2ee02e"/>
<path d="M416.0,81.2 L417.8,84.4 L414.2,84.4 Z" fill="#2ee02e"/>
<rect x="378.6" y="134.3" width="2.5" height="2.5" fill="#000"/>
<path d="M315.7,126.7 L317.5,129.9 L313.9,129.9 Z" fill="#2ee02e"/>
<rect x="479.8" y="122.8" width="2.5" height="2.5" fill="#000"/>
<ellipse cx="435.0" cy="93.5" rx="1.2" ry="1.45" fill="#d41830"/>
<rect x="418.8" y="91.8" width="2.5" height="2.5" fill="#000"/>
<ellipse cx="405.0" cy="12.0" rx="1.2" ry="1.45" fill="#d41830"/>
<path d="M355.9,111.4 L357.7,114.6 L354.1,114.6 Z" fill="#2ee02e"/>
<rect x="321.1" y="127.2" width="2.5" height="2.5" fill="#000"/>
<rect x="415.2" y="97.8" width="2.5" height="2.5" fill="#000"/>
<ellipse cx="378.9" cy="149.7" rx="1.2" ry="1.45" fill="#d41830"/>
<ellipse cx="329.1" cy="122.8" rx="1.2" ry="1.45" fill="#d41830"/>
<rect x="313.9" y="121.5" width="2.5" height="2.5" fill="#000"/>
<ellipse cx="326.6" cy="103.6" rx="1.2" ry="1.45" fill="#d41830"/>
<rect x="385.4" y="143.8" width="2.5" height="2.5" fill="#000"/>
<ellipse cx="314.6" cy="105.8" rx="1.2" ry="1.45" fill="#d41830"/>
<path d="M440.0,113.2 L441.8,116.4 L438.2,116.4 Z" fill="#2ee02e"/>
<rect x="350.1" y="114.2" width="2.5" height="2.5" fill="#000"/>
<path d="M290.4,164.3 V1.6 H512.3 V164.3 Z" stroke="#000" stroke-width="1.2" fill="none"/>
<line x1="402.3" y1="1.3" x2="402.3" y2="164.3" stroke="#000" stroke-width="1.2"/>
<line x1="287" y1="164.4" x2="290.2" y2="164.4" stroke="#000" stroke-width="1"/>
<line x1="287" y1="138.5" x2="290.2" y2="138.5" stroke="#000" stroke-width="1"/>
<line x1="287" y1="112.6" x2="290.2" y2="112.6" stroke="#000" stroke-width="1"/>
<line x1="287" y1="86.7" x2="290.2" y2="86.7" stroke="#000" stroke-width="1"/>
<line x1="287" y1="60.8" x2="290.2" y2="60.8" stroke="#000" stroke-width="1"/>
<line x1="287" y1="34.9" x2="290.2" y2="34.9" stroke="#000" stroke-width="1"/>
<line x1="287" y1="9.0" x2="290.2" y2="9.0" stroke="#000" stroke-width="1"/>
<text x="285.6" y="141.8" font-size="9.5" text-anchor="end" fill="#222" stroke="#222" stroke-width="0.3" font-weight="normal" >10</text>
<text x="285.6" y="90.0" font-size="9.5" text-anchor="end" fill="#222" stroke="#222" stroke-width="0.3" font-weight="normal" >12</text>
<text x="285.6" y="38.2" font-size="9.5" text-anchor="end" fill="#222" stroke="#222" stroke-width="0.3" font-weight="normal" >14</text>
<line x1="399.3" y1="9.2" x2="402.3" y2="9.2" stroke="#000" stroke-width="1"/>
<line x1="399.3" y1="18.9" x2="402.3" y2="18.9" stroke="#000" stroke-width="1"/>
<line x1="399.3" y1="28.6" x2="402.3" y2="28.6" stroke="#000" stroke-width="1"/>
<line x1="399.3" y1="38.3" x2="402.3" y2="38.3" stroke="#000" stroke-width="1"/>
<line x1="399.3" y1="48.0" x2="402.3" y2="48.0" stroke="#000" stroke-width="1"/>
<line x1="399.3" y1="57.7" x2="402.3" y2="57.7" stroke="#000" stroke-width="1"/>
<line x1="399.3" y1="67.4" x2="402.3" y2="67.4" stroke="#000" stroke-width="1"/>
<line x1="399.3" y1="77.1" x2="402.3" y2="77.1" stroke="#000" stroke-width="1"/>
<line x1="399.3" y1="86.8" x2="402.3" y2="86.8" stroke="#000" stroke-width="1"/>
<line x1="399.3" y1="96.5" x2="402.3" y2="96.5" stroke="#000" stroke-width="1"/>
<line x1="399.3" y1="106.2" x2="402.3" y2="106.2" stroke="#000" stroke-width="1"/>
<line x1="399.3" y1="115.9" x2="402.3" y2="115.9" stroke="#000" stroke-width="1"/>
<line x1="399.3" y1="125.6" x2="402.3" y2="125.6" stroke="#000" stroke-width="1"/>
<line x1="399.3" y1="135.3" x2="402.3" y2="135.3" stroke="#000" stroke-width="1"/>
<line x1="399.3" y1="145.0" x2="402.3" y2="145.0" stroke="#000" stroke-width="1"/>
<line x1="399.3" y1="154.7" x2="402.3" y2="154.7" stroke="#000" stroke-width="1"/>
<text x="397.3" y="32.2" font-size="10" text-anchor="end" fill="#222" stroke="#222" stroke-width="0.3" font-weight="normal" >27</text>
<text x="397.3" y="71.0" font-size="10" text-anchor="end" fill="#222" stroke="#222" stroke-width="0.3" font-weight="normal" >25</text>
<text x="397.3" y="109.8" font-size="10" text-anchor="end" fill="#222" stroke="#222" stroke-width="0.3" font-weight="normal" >23</text>
<line x1="307.0" y1="164.3" x2="307.0" y2="167.8" stroke="#000" stroke-width="1"/>
<line x1="419.5" y1="164.3" x2="419.5" y2="167.8" stroke="#000" stroke-width="1"/>
<line x1="325.5" y1="164.3" x2="325.5" y2="167.8" stroke="#000" stroke-width="1"/>
<line x1="438.0" y1="164.3" x2="438.0" y2="167.8" stroke="#000" stroke-width="1"/>
<line x1="344.0" y1="164.3" x2="344.0" y2="167.8" stroke="#000" stroke-width="1"/>
<line x1="456.5" y1="164.3" x2="456.5" y2="167.8" stroke="#000" stroke-width="1"/>
<line x1="362.5" y1="164.3" x2="362.5" y2="167.8" stroke="#000" stroke-width="1"/>
<line x1="475.1" y1="164.3" x2="475.1" y2="167.8" stroke="#000" stroke-width="1"/>
<line x1="381.0" y1="164.3" x2="381.0" y2="167.8" stroke="#000" stroke-width="1"/>
<line x1="493.6" y1="164.3" x2="493.6" y2="167.8" stroke="#000" stroke-width="1"/>
<line x1="399.5" y1="164.3" x2="399.5" y2="167.8" stroke="#000" stroke-width="1"/>
<text x="324.5" y="179.0" font-size="9" text-anchor="middle" fill="#222" stroke="#222" stroke-width="0.3" font-weight="normal" >100</text>
<text x="361.5" y="179.0" font-size="9" text-anchor="middle" fill="#222" stroke="#222" stroke-width="0.3" font-weight="normal" >200</text>
<text x="437.4" y="179.0" font-size="9" text-anchor="middle" fill="#222" stroke="#222" stroke-width="0.3" font-weight="normal" >100</text>
<text x="474.3" y="179.0" font-size="9" text-anchor="middle" fill="#222" stroke="#222" stroke-width="0.3" font-weight="normal" >200</text>
<text x="511.2" y="179.0" font-size="9" text-anchor="middle" fill="#222" stroke="#222" stroke-width="0.3" font-weight="normal" >300</text>
<text x="402.0" y="189.8" font-size="10" text-anchor="middle" fill="#222" stroke="#222" stroke-width="0.3" font-weight="normal" >Age (weeks)</text>
<text x="293.8" y="17.4" font-size="17" text-anchor="start" fill="#000" stroke="#000" stroke-width="0" font-weight="bold" >B</text>
<circle cx="442" cy="17.6" r="2.0" fill="#d41830"/>
<path d="M442.3,31.0 L445.1,36.0 L439.5,36.0 Z" fill="#2ee02e"/>
<rect x="440.1" y="49" width="3" height="3" fill="#000"/>
<text x="450.0" y="21.9" font-size="10" text-anchor="start" fill="#222" stroke="#222" stroke-width="0.3" font-weight="normal" >T cells</text>
<text x="450.0" y="37.6" font-size="10" text-anchor="start" fill="#222" stroke="#222" stroke-width="0.3" font-weight="normal" >B cells</text>
<text x="450.0" y="53.9" font-size="10" text-anchor="start" fill="#222" stroke="#222" stroke-width="0.3" font-weight="normal" >granulocytes</text>
<path d="M39.00,227.84 L43.76,230.97 L48.51,233.99 L53.27,236.83 L58.03,239.47 L62.78,241.89 L67.54,244.18 L72.29,246.37 L77.05,248.44 L81.81,250.43 L86.56,252.32 L91.32,254.14 L96.08,255.89 L100.83,257.63 L105.59,259.31 L110.35,260.89 L115.10,262.30 L119.86,263.47 L124.62,264.42 L129.37,265.23 L134.13,265.96 L138.88,266.64 L143.64,267.30 L148.40,267.91 L153.15,268.46 L157.91,268.95 L162.67,269.41 L167.42,269.85 L172.18,270.31 L176.94,270.80 L181.69,271.36 L186.45,272.01 L191.21,272.76 L195.96,273.60 L200.72,274.53 L205.47,275.54 L210.23,276.61 L214.99,277.74 L219.74,278.92 L224.50,280.13" stroke="#c9575a" stroke-width="1" fill="none"/>
<path d="M249.50,288.13 L249.78,288.23 L250.06,288.32 L250.35,288.42 L250.63,288.51 L250.91,288.61 L251.19,288.71 L251.47,288.80 L251.76,288.90 L252.04,289.00 L252.32,289.10 L252.60,289.19 L252.88,289.29 L253.17,289.39 L253.45,289.49 L253.73,289.59 L254.01,289.69 L254.29,289.79 L254.58,289.89 L254.86,289.99 L255.14,290.09 L255.42,290.19 L255.71,290.29 L255.99,290.39 L256.27,290.49 L256.55,290.59 L256.83,290.69 L257.12,290.79 L257.40,290.89 L257.68,290.99 L257.96,291.10 L258.24,291.20 L258.53,291.30 L258.81,291.40 L259.09,291.50 L259.37,291.61 L259.65,291.71 L259.94,291.81 L260.22,291.91 L260.50,292.02" stroke="#c9575a" stroke-width="1" fill="none"/>
<path d="M39.00,238.04 L43.76,241.17 L48.51,244.19 L53.27,247.03 L58.03,249.67 L62.78,252.09 L67.54,254.38 L72.29,256.57 L77.05,258.64 L81.81,260.63 L86.56,262.52 L91.32,264.34 L96.08,266.09 L100.83,267.83 L105.59,269.51 L110.35,271.09 L115.10,272.50 L119.86,273.67 L124.62,274.62 L129.37,275.43 L134.13,276.16 L138.88,276.84 L143.64,277.50 L148.40,278.11 L153.15,278.66 L157.91,279.15 L162.67,279.61 L167.42,280.05 L172.18,280.51 L176.94,281.00 L181.69,281.56 L186.45,282.21 L191.21,282.96 L195.96,283.80 L200.72,284.73 L205.47,285.74 L210.23,286.81 L214.99,287.94 L219.74,289.12 L224.50,290.33" stroke="#5fa565" stroke-width="1" fill="none"/>
<path d="M249.50,298.33 L249.78,298.43 L250.06,298.52 L250.35,298.62 L250.63,298.71 L250.91,298.81 L251.19,298.91 L251.47,299.00 L251.76,299.10 L252.04,299.20 L252.32,299.30 L252.60,299.39 L252.88,299.49 L253.17,299.59 L253.45,299.69 L253.73,299.79 L254.01,299.89 L254.29,299.99 L254.58,300.09 L254.86,300.19 L255.14,300.29 L255.42,300.39 L255.71,300.49 L255.99,300.59 L256.27,300.69 L256.55,300.79 L256.83,300.89 L257.12,300.99 L257.40,301.09 L257.68,301.19 L257.96,301.30 L258.24,301.40 L258.53,301.50 L258.81,301.60 L259.09,301.70 L259.37,301.81 L259.65,301.91 L259.94,302.01 L260.22,302.11 L260.50,302.22" stroke="#5fa565" stroke-width="1" fill="none"/>
<path d="M39.00,250.54 L43.76,253.67 L48.51,256.69 L53.27,259.53 L58.03,262.17 L62.78,264.59 L67.54,266.88 L72.29,269.07 L77.05,271.14 L81.81,273.13 L86.56,275.02 L91.32,276.84 L96.08,278.59 L100.83,280.33 L105.59,282.01 L110.35,283.59 L115.10,285.00 L119.86,286.17 L124.62,287.12 L129.37,287.93 L134.13,288.66 L138.88,289.34 L143.64,290.00 L148.40,290.61 L153.15,291.16 L157.91,291.65 L162.67,292.11 L167.42,292.55 L172.18,293.01 L176.94,293.50 L181.69,294.06 L186.45,294.71 L191.21,295.46 L195.96,296.30 L200.72,297.23 L205.47,298.24 L210.23,299.31 L214.99,300.44 L219.74,301.62 L224.50,302.83" stroke="#5fa565" stroke-width="1" fill="none"/>
<path d="M249.50,310.83 L249.78,310.93 L250.06,311.02 L250.35,311.12 L250.63,311.21 L250.91,311.31 L251.19,311.41 L251.47,311.50 L251.76,311.60 L252.04,311.70 L252.32,311.80 L252.60,311.89 L252.88,311.99 L253.17,312.09 L253.45,312.19 L253.73,312.29 L254.01,312.39 L254.29,312.49 L254.58,312.59 L254.86,312.69 L255.14,312.79 L255.42,312.89 L255.71,312.99 L255.99,313.09 L256.27,313.19 L256.55,313.29 L256.83,313.39 L257.12,313.49 L257.40,313.59 L257.68,313.69 L257.96,313.80 L258.24,313.90 L258.53,314.00 L258.81,314.10 L259.09,314.20 L259.37,314.31 L259.65,314.41 L259.94,314.51 L260.22,314.61 L260.50,314.72" stroke="#5fa565" stroke-width="1" fill="none"/>
<path d="M39.00,262.34 L43.76,265.47 L48.51,268.49 L53.27,271.33 L58.03,273.97 L62.78,276.39 L67.54,278.68 L72.29,280.87 L77.05,282.94 L81.81,284.93 L86.56,286.82 L91.32,288.64 L96.08,290.39 L100.83,292.13 L105.59,293.81 L110.35,295.39 L115.10,296.80 L119.86,297.97 L124.62,298.92 L129.37,299.73 L134.13,300.46 L138.88,301.14 L143.64,301.80 L148.40,302.41 L153.15,302.96 L157.91,303.45 L162.67,303.91 L167.42,304.35 L172.18,304.81 L176.94,305.30 L181.69,305.86 L186.45,306.51 L191.21,307.26 L195.96,308.10 L200.72,309.03 L205.47,310.04 L210.23,311.11 L214.99,312.24 L219.74,313.42 L224.50,314.63" stroke="#5fa565" stroke-width="1" fill="none"/>
<path d="M249.50,322.63 L249.78,322.73 L250.06,322.82 L250.35,322.92 L250.63,323.01 L250.91,323.11 L251.19,323.21 L251.47,323.30 L251.76,323.40 L252.04,323.50 L252.32,323.60 L252.60,323.69 L252.88,323.79 L253.17,323.89 L253.45,323.99 L253.73,324.09 L254.01,324.19 L254.29,324.29 L254.58,324.39 L254.86,324.49 L255.14,324.59 L255.42,324.69 L255.71,324.79 L255.99,324.89 L256.27,324.99 L256.55,325.09 L256.83,325.19 L257.12,325.29 L257.40,325.39 L257.68,325.49 L257.96,325.60 L258.24,325.70 L258.53,325.80 L258.81,325.90 L259.09,326.00 L259.37,326.11 L259.65,326.21 L259.94,326.31 L260.22,326.41 L260.50,326.52" stroke="#5fa565" stroke-width="1" fill="none"/>
<path d="M39.00,272.04 L43.76,275.17 L48.51,278.19 L53.27,281.03 L58.03,283.67 L62.78,286.09 L67.54,288.38 L72.29,290.57 L77.05,292.64 L81.81,294.63 L86.56,296.52 L91.32,298.34 L96.08,300.09 L100.83,301.83 L105.59,303.51 L110.35,305.09 L115.10,306.50 L119.86,307.67 L124.62,308.62 L129.37,309.43 L134.13,310.16 L138.88,310.84 L143.64,311.50 L148.40,312.11 L153.15,312.66 L157.91,313.15 L162.67,313.61 L167.42,314.05 L172.18,314.51 L176.94,315.00 L181.69,315.56 L186.45,316.21 L191.21,316.96 L195.96,317.80 L200.72,318.73 L205.47,319.74 L210.23,320.81 L214.99,321.94 L219.74,323.12 L224.50,324.33" stroke="#6f8dbd" stroke-width="1" fill="none"/>
<path d="M249.50,332.33 L249.78,332.43 L250.06,332.52 L250.35,332.62 L250.63,332.71 L250.91,332.81 L251.19,332.91 L251.47,333.00 L251.76,333.10 L252.04,333.20 L252.32,333.30 L252.60,333.39 L252.88,333.49 L253.17,333.59 L253.45,333.69 L253.73,333.79 L254.01,333.89 L254.29,333.99 L254.58,334.09 L254.86,334.19 L255.14,334.29 L255.42,334.39 L255.71,334.49 L255.99,334.59 L256.27,334.69 L256.55,334.79 L256.83,334.89 L257.12,334.99 L257.40,335.09 L257.68,335.19 L257.96,335.30 L258.24,335.40 L258.53,335.50 L258.81,335.60 L259.09,335.70 L259.37,335.81 L259.65,335.91 L259.94,336.01 L260.22,336.11 L260.50,336.22" stroke="#6f8dbd" stroke-width="1" fill="none"/>
<text x="246.8" y="288.2" font-size="10.2" text-anchor="end" fill="#333" stroke="#333" stroke-width="0.1" font-weight="normal" textLength="18.6" lengthAdjust="spacingAndGlyphs">99%</text>
<text x="246.8" y="297.0" font-size="10.2" text-anchor="end" fill="#333" stroke="#333" stroke-width="0.1" font-weight="normal" textLength="18.6" lengthAdjust="spacingAndGlyphs">90%</text>
<text x="246.8" y="309.3" font-size="10.2" text-anchor="end" fill="#333" stroke="#333" stroke-width="0.1" font-weight="normal" textLength="18.6" lengthAdjust="spacingAndGlyphs">50%</text>
<text x="246.8" y="319.9" font-size="10.2" text-anchor="end" fill="#333" stroke="#333" stroke-width="0.1" font-weight="normal" textLength="18.6" lengthAdjust="spacingAndGlyphs">10%</text>
<text x="246.8" y="331.1" font-size="10.2" text-anchor="end" fill="#333" stroke="#333" stroke-width="0.1" font-weight="normal" textLength="12.4" lengthAdjust="spacingAndGlyphs">1%</text>
<path d="M38.5,356.2 V195.6 H260.7 V356.2 Z" stroke="#000" stroke-width="1.2" fill="none"/>
<line x1="33" y1="333.9" x2="38.5" y2="333.9" stroke="#000" stroke-width="1"/>
<text x="26.6" y="337.1" font-size="9" text-anchor="middle" fill="#222" stroke="#222" stroke-width="0.3" font-weight="normal" >2</text>
<line x1="33" y1="313.8" x2="38.5" y2="313.8" stroke="#000" stroke-width="1"/>
<text x="26.6" y="317.0" font-size="9" text-anchor="middle" fill="#222" stroke="#222" stroke-width="0.3" font-weight="normal" >4</text>
<line x1="33" y1="293.6" x2="38.5" y2="293.6" stroke="#000" stroke-width="1"/>
<text x="26.6" y="296.8" font-size="9" text-anchor="middle" fill="#222" stroke="#222" stroke-width="0.3" font-weight="normal" >6</text>
<line x1="33" y1="273.5" x2="38.5" y2="273.5" stroke="#000" stroke-width="1"/>
<text x="26.6" y="276.7" font-size="9" text-anchor="middle" fill="#222" stroke="#222" stroke-width="0.3" font-weight="normal" >8</text>
<line x1="33" y1="253.3" x2="38.5" y2="253.3" stroke="#000" stroke-width="1"/>
<text x="27.0" y="256.5" font-size="9" text-anchor="middle" fill="#222" stroke="#222" stroke-width="0.3" font-weight="normal" >10</text>
<line x1="33" y1="233.1" x2="38.5" y2="233.1" stroke="#000" stroke-width="1"/>
<text x="27.0" y="236.3" font-size="9" text-anchor="middle" fill="#222" stroke="#222" stroke-width="0.3" font-weight="normal" >12</text>
<line x1="33" y1="213.0" x2="38.5" y2="213.0" stroke="#000" stroke-width="1"/>
<text x="27.0" y="216.2" font-size="9" text-anchor="middle" fill="#222" stroke="#222" stroke-width="0.3" font-weight="normal" >14</text>
<text x="40.4" y="371.5" font-size="9.5" text-anchor="middle" fill="#222" stroke="#222" stroke-width="0.3" font-weight="normal" >0</text>
<line x1="80.3" y1="356.2" x2="80.3" y2="359.8" stroke="#000" stroke-width="1"/>
<text x="80.3" y="371.5" font-size="9.5" text-anchor="middle" fill="#222" stroke="#222" stroke-width="0.3" font-weight="normal" >20</text>
<line x1="125.3" y1="356.2" x2="125.3" y2="359.8" stroke="#000" stroke-width="1"/>
<text x="125.3" y="371.5" font-size="9.5" text-anchor="middle" fill="#222" stroke="#222" stroke-width="0.3" font-weight="normal" >40</text>
<line x1="170.0" y1="356.2" x2="170.0" y2="359.8" stroke="#000" stroke-width="1"/>
<text x="170.0" y="371.5" font-size="9.5" text-anchor="middle" fill="#222" stroke="#222" stroke-width="0.3" font-weight="normal" >60</text>
<line x1="213.5" y1="356.2" x2="213.5" y2="359.8" stroke="#000" stroke-width="1"/>
<text x="213.5" y="371.5" font-size="9.5" text-anchor="middle" fill="#222" stroke="#222" stroke-width="0.3" font-weight="normal" >80</text>
<line x1="257.0" y1="356.2" x2="257.0" y2="359.8" stroke="#000" stroke-width="1"/>
<text x="257.0" y="371.5" font-size="9.5" text-anchor="middle" fill="#222" stroke="#222" stroke-width="0.3" font-weight="normal" >100</text>
<text x="153.5" y="384.3" font-size="10" text-anchor="middle" fill="#222" stroke="#222" stroke-width="0.3" font-weight="normal" >Age (years)</text>
<text x="42.9" y="211.6" font-size="16" text-anchor="start" fill="#000" stroke="#000" stroke-width="0" font-weight="bold" >C</text>
<text x="194.5" y="212.9" font-size="10" text-anchor="start" fill="#222" stroke="#222" stroke-width="0.3" font-weight="normal" textLength="54.8" lengthAdjust="spacingAndGlyphs">lymphocytes</text>
<circle cx="43.9" cy="301.2" r="1.9" fill="#1a1a1a"/>
<rect x="67.9" y="288.7" width="3.6" height="3.6" fill="#8fc1cc" stroke="#2e4f58" stroke-width="0.9"/>
<rect x="61.7" y="296.5" width="3.6" height="3.6" fill="#8fc1cc" stroke="#2e4f58" stroke-width="0.9"/>
<rect x="60.2" y="298.3" width="3.6" height="3.6" fill="#8fc1cc" stroke="#2e4f58" stroke-width="0.9"/>
<circle cx="59.2" cy="303.2" r="1.9" fill="#1a1a1a"/>
<circle cx="78.7" cy="302.0" r="1.75" fill="#b5382c" stroke="#4a1a14" stroke-width="0.8"/>
<circle cx="109.7" cy="299.8" r="1.75" fill="#b5382c" stroke="#4a1a14" stroke-width="0.8"/>
<circle cx="67.9" cy="311.0" r="1.9" fill="#1a1a1a"/>
<circle cx="85.7" cy="310.6" r="1.75" fill="#b5382c" stroke="#4a1a14" stroke-width="0.8"/>
<circle cx="94.5" cy="314.4" r="1.75" fill="#b5382c" stroke="#4a1a14" stroke-width="0.8"/>
<circle cx="98.8" cy="313.6" r="1.75" fill="#b5382c" stroke="#4a1a14" stroke-width="0.8"/>
<rect x="74.8" y="314.8" width="3.8" height="3.8" fill="#1a1a1a"/>
<circle cx="87.8" cy="316.8" r="1.9" fill="#1a1a1a"/>
<circle cx="50.4" cy="318.7" r="1.9" fill="#1a1a1a"/>
<circle cx="61.5" cy="317.9" r="1.9" fill="#1a1a1a"/>
<rect x="68.1" y="319.9" width="3.8" height="3.8" fill="#1a1a1a"/>
<circle cx="96.5" cy="324.4" r="1.75" fill="#b5382c" stroke="#4a1a14" stroke-width="0.8"/>
<rect x="123.1" y="298.4" width="3.8" height="3.8" fill="#1a1a1a"/>
<circle cx="129.6" cy="307.9" r="1.75" fill="#b5382c" stroke="#4a1a14" stroke-width="0.8"/>
<rect x="132.4" y="305.4" width="3.6" height="3.6" fill="#8fc1cc" stroke="#2e4f58" stroke-width="0.9"/>
<rect x="134.7" y="306.6" width="3.6" height="3.6" fill="#8fc1cc" stroke="#2e4f58" stroke-width="0.9"/>
<circle cx="140.7" cy="306.1" r="1.75" fill="#b5382c" stroke="#4a1a14" stroke-width="0.8"/>
<circle cx="149.7" cy="306.1" r="1.75" fill="#b5382c" stroke="#4a1a14" stroke-width="0.8"/>
<circle cx="179.9" cy="295.5" r="1.75" fill="#b5382c" stroke="#4a1a14" stroke-width="0.8"/>
<rect x="185.0" y="307.5" width="3.6" height="3.6" fill="#8fc1cc" stroke="#2e4f58" stroke-width="0.9"/>
<circle cx="204.2" cy="307.7" r="1.75" fill="#b5382c" stroke="#4a1a14" stroke-width="0.8"/>
<circle cx="208.8" cy="311.2" r="1.75" fill="#b5382c" stroke="#4a1a14" stroke-width="0.8"/>
<circle cx="206.9" cy="313.9" r="1.75" fill="#b5382c" stroke="#4a1a14" stroke-width="0.8"/>
<circle cx="136.1" cy="316.5" r="1.75" fill="#b5382c" stroke="#4a1a14" stroke-width="0.8"/>
<circle cx="143.0" cy="314.2" r="1.75" fill="#b5382c" stroke="#4a1a14" stroke-width="0.8"/>
<rect x="141.1" y="316.9" width="3.8" height="3.8" fill="#1a1a1a"/>
<circle cx="151.5" cy="316.2" r="1.75" fill="#b5382c" stroke="#4a1a14" stroke-width="0.8"/>
<circle cx="133.8" cy="321.8" r="1.75" fill="#b5382c" stroke="#4a1a14" stroke-width="0.8"/>
<circle cx="156.2" cy="321.5" r="1.75" fill="#b5382c" stroke="#4a1a14" stroke-width="0.8"/>
<rect x="180.3" y="315.7" width="3.8" height="3.8" fill="#1a1a1a"/>
<path d="M291.50,221.21 L296.27,223.15 L301.04,225.03 L305.81,226.85 L310.58,228.61 L315.35,230.35 L320.12,232.05 L324.88,233.66 L329.65,235.10 L334.42,236.36 L339.19,237.49 L343.96,238.56 L348.73,239.67 L353.50,240.82 L358.27,241.94 L363.04,242.97 L367.81,243.86 L372.58,244.56 L377.35,245.17 L382.12,245.71 L386.88,246.20 L391.65,246.65 L396.42,247.08 L401.19,247.50 L405.96,247.89 L410.73,248.24 L415.50,248.56 L420.27,248.87 L425.04,249.19 L429.81,249.53 L434.58,249.91 L439.35,250.34 L444.12,250.82 L448.88,251.34 L453.65,251.91 L458.42,252.53 L463.19,253.21 L467.96,253.94 L472.73,254.73 L477.50,255.59" stroke="#c9575a" stroke-width="1" fill="none"/>
<path d="M502.50,262.34 L502.77,262.43 L503.04,262.51 L503.31,262.60 L503.58,262.69 L503.85,262.78 L504.12,262.86 L504.38,262.96 L504.65,263.05 L504.92,263.14 L505.19,263.23 L505.46,263.33 L505.73,263.42 L506.00,263.52 L506.27,263.61 L506.54,263.71 L506.81,263.81 L507.08,263.91 L507.35,264.01 L507.62,264.11 L507.88,264.21 L508.15,264.31 L508.42,264.41 L508.69,264.51 L508.96,264.62 L509.23,264.72 L509.50,264.82 L509.77,264.93 L510.04,265.03 L510.31,265.14 L510.58,265.24 L510.85,265.35 L511.12,265.45 L511.38,265.56 L511.65,265.67 L511.92,265.77 L512.19,265.88 L512.46,265.99 L512.73,266.09 L513.00,266.20" stroke="#c9575a" stroke-width="1" fill="none"/>
<path d="M291.50,232.81 L296.27,234.75 L301.04,236.63 L305.81,238.45 L310.58,240.21 L315.35,241.95 L320.12,243.65 L324.88,245.26 L329.65,246.70 L334.42,247.96 L339.19,249.09 L343.96,250.16 L348.73,251.27 L353.50,252.42 L358.27,253.54 L363.04,254.57 L367.81,255.46 L372.58,256.16 L377.35,256.77 L382.12,257.31 L386.88,257.80 L391.65,258.25 L396.42,258.68 L401.19,259.10 L405.96,259.49 L410.73,259.84 L415.50,260.16 L420.27,260.47 L425.04,260.79 L429.81,261.13 L434.58,261.51 L439.35,261.94 L444.12,262.42 L448.88,262.94 L453.65,263.51 L458.42,264.13 L463.19,264.81 L467.96,265.54 L472.73,266.33 L477.50,267.19" stroke="#5fa565" stroke-width="1" fill="none"/>
<path d="M502.50,273.94 L502.77,274.03 L503.04,274.11 L503.31,274.20 L503.58,274.29 L503.85,274.38 L504.12,274.46 L504.38,274.56 L504.65,274.65 L504.92,274.74 L505.19,274.83 L505.46,274.93 L505.73,275.02 L506.00,275.12 L506.27,275.21 L506.54,275.31 L506.81,275.41 L507.08,275.51 L507.35,275.61 L507.62,275.71 L507.88,275.81 L508.15,275.91 L508.42,276.01 L508.69,276.11 L508.96,276.22 L509.23,276.32 L509.50,276.42 L509.77,276.53 L510.04,276.63 L510.31,276.74 L510.58,276.84 L510.85,276.95 L511.12,277.05 L511.38,277.16 L511.65,277.27 L511.92,277.37 L512.19,277.48 L512.46,277.59 L512.73,277.69 L513.00,277.80" stroke="#5fa565" stroke-width="1" fill="none"/>
<path d="M291.50,247.41 L296.27,249.35 L301.04,251.23 L305.81,253.05 L310.58,254.81 L315.35,256.55 L320.12,258.25 L324.88,259.86 L329.65,261.30 L334.42,262.56 L339.19,263.69 L343.96,264.76 L348.73,265.87 L353.50,267.02 L358.27,268.14 L363.04,269.17 L367.81,270.06 L372.58,270.76 L377.35,271.37 L382.12,271.91 L386.88,272.40 L391.65,272.85 L396.42,273.28 L401.19,273.70 L405.96,274.09 L410.73,274.44 L415.50,274.76 L420.27,275.07 L425.04,275.39 L429.81,275.73 L434.58,276.11 L439.35,276.54 L444.12,277.02 L448.88,277.54 L453.65,278.11 L458.42,278.73 L463.19,279.41 L467.96,280.14 L472.73,280.93 L477.50,281.79" stroke="#5fa565" stroke-width="1" fill="none"/>
<path d="M502.50,288.54 L502.77,288.63 L503.04,288.71 L503.31,288.80 L503.58,288.89 L503.85,288.98 L504.12,289.06 L504.38,289.16 L504.65,289.25 L504.92,289.34 L505.19,289.43 L505.46,289.53 L505.73,289.62 L506.00,289.72 L506.27,289.81 L506.54,289.91 L506.81,290.01 L507.08,290.11 L507.35,290.21 L507.62,290.31 L507.88,290.41 L508.15,290.51 L508.42,290.61 L508.69,290.71 L508.96,290.82 L509.23,290.92 L509.50,291.02 L509.77,291.13 L510.04,291.23 L510.31,291.34 L510.58,291.44 L510.85,291.55 L511.12,291.65 L511.38,291.76 L511.65,291.87 L511.92,291.97 L512.19,292.08 L512.46,292.19 L512.73,292.29 L513.00,292.40" stroke="#5fa565" stroke-width="1" fill="none"/>
<path d="M291.50,261.71 L296.27,263.65 L301.04,265.53 L305.81,267.35 L310.58,269.11 L315.35,270.85 L320.12,272.55 L324.88,274.16 L329.65,275.60 L334.42,276.86 L339.19,277.99 L343.96,279.06 L348.73,280.17 L353.50,281.32 L358.27,282.44 L363.04,283.47 L367.81,284.36 L372.58,285.06 L377.35,285.67 L382.12,286.21 L386.88,286.70 L391.65,287.15 L396.42,287.58 L401.19,288.00 L405.96,288.39 L410.73,288.74 L415.50,289.06 L420.27,289.37 L425.04,289.69 L429.81,290.03 L434.58,290.41 L439.35,290.84 L444.12,291.32 L448.88,291.84 L453.65,292.41 L458.42,293.03 L463.19,293.71 L467.96,294.44 L472.73,295.23 L477.50,296.09" stroke="#5fa565" stroke-width="1" fill="none"/>
<path d="M502.50,302.84 L502.77,302.93 L503.04,303.01 L503.31,303.10 L503.58,303.19 L503.85,303.28 L504.12,303.36 L504.38,303.46 L504.65,303.55 L504.92,303.64 L505.19,303.73 L505.46,303.83 L505.73,303.92 L506.00,304.02 L506.27,304.11 L506.54,304.21 L506.81,304.31 L507.08,304.41 L507.35,304.51 L507.62,304.61 L507.88,304.71 L508.15,304.81 L508.42,304.91 L508.69,305.01 L508.96,305.12 L509.23,305.22 L509.50,305.32 L509.77,305.43 L510.04,305.53 L510.31,305.64 L510.58,305.74 L510.85,305.85 L511.12,305.95 L511.38,306.06 L511.65,306.17 L511.92,306.27 L512.19,306.38 L512.46,306.49 L512.73,306.59 L513.00,306.70" stroke="#5fa565" stroke-width="1" fill="none"/>
<path d="M291.50,272.61 L296.27,274.55 L301.04,276.43 L305.81,278.25 L310.58,280.01 L315.35,281.75 L320.12,283.45 L324.88,285.06 L329.65,286.50 L334.42,287.76 L339.19,288.89 L343.96,289.96 L348.73,291.07 L353.50,292.22 L358.27,293.34 L363.04,294.37 L367.81,295.26 L372.58,295.96 L377.35,296.57 L382.12,297.11 L386.88,297.60 L391.65,298.05 L396.42,298.48 L401.19,298.90 L405.96,299.29 L410.73,299.64 L415.50,299.96 L420.27,300.27 L425.04,300.59 L429.81,300.93 L434.58,301.31 L439.35,301.74 L444.12,302.22 L448.88,302.74 L453.65,303.31 L458.42,303.93 L463.19,304.61 L467.96,305.34 L472.73,306.13 L477.50,306.99" stroke="#6f8dbd" stroke-width="1" fill="none"/>
<path d="M502.50,313.74 L502.77,313.83 L503.04,313.91 L503.31,314.00 L503.58,314.09 L503.85,314.18 L504.12,314.26 L504.38,314.36 L504.65,314.45 L504.92,314.54 L505.19,314.63 L505.46,314.73 L505.73,314.82 L506.00,314.92 L506.27,315.01 L506.54,315.11 L506.81,315.21 L507.08,315.31 L507.35,315.41 L507.62,315.51 L507.88,315.61 L508.15,315.71 L508.42,315.81 L508.69,315.91 L508.96,316.02 L509.23,316.12 L509.50,316.22 L509.77,316.33 L510.04,316.43 L510.31,316.54 L510.58,316.64 L510.85,316.75 L511.12,316.85 L511.38,316.96 L511.65,317.07 L511.92,317.17 L512.19,317.28 L512.46,317.39 L512.73,317.49 L513.00,317.60" stroke="#6f8dbd" stroke-width="1" fill="none"/>
<text x="499.4" y="262.6" font-size="10.2" text-anchor="end" fill="#333" stroke="#333" stroke-width="0.1" font-weight="normal" textLength="18.6" lengthAdjust="spacingAndGlyphs">99%</text>
<text x="499.4" y="273.5" font-size="10.2" text-anchor="end" fill="#333" stroke="#333" stroke-width="0.1" font-weight="normal" textLength="18.6" lengthAdjust="spacingAndGlyphs">90%</text>
<text x="499.4" y="287.6" font-size="10.2" text-anchor="end" fill="#333" stroke="#333" stroke-width="0.1" font-weight="normal" textLength="18.6" lengthAdjust="spacingAndGlyphs">50%</text>
<text x="499.4" y="300.5" font-size="10.2" text-anchor="end" fill="#333" stroke="#333" stroke-width="0.1" font-weight="normal" textLength="18.6" lengthAdjust="spacingAndGlyphs">10%</text>
<text x="499.4" y="312.9" font-size="10.2" text-anchor="end" fill="#333" stroke="#333" stroke-width="0.1" font-weight="normal" textLength="12.4" lengthAdjust="spacingAndGlyphs">1%</text>
<path d="M290.7,357 V196.5 H513.2 V357 Z" stroke="#000" stroke-width="1.2" fill="none"/>
<line x1="285.5" y1="336.6" x2="290.7" y2="336.6" stroke="#000" stroke-width="1"/>
<text x="278.8" y="339.8" font-size="9" text-anchor="middle" fill="#222" stroke="#222" stroke-width="0.3" font-weight="normal" >2</text>
<line x1="285.5" y1="316.4" x2="290.7" y2="316.4" stroke="#000" stroke-width="1"/>
<text x="278.8" y="319.6" font-size="9" text-anchor="middle" fill="#222" stroke="#222" stroke-width="0.3" font-weight="normal" >4</text>
<line x1="285.5" y1="296.3" x2="290.7" y2="296.3" stroke="#000" stroke-width="1"/>
<text x="278.8" y="299.5" font-size="9" text-anchor="middle" fill="#222" stroke="#222" stroke-width="0.3" font-weight="normal" >6</text>
<line x1="285.5" y1="276.1" x2="290.7" y2="276.1" stroke="#000" stroke-width="1"/>
<text x="278.8" y="279.3" font-size="9" text-anchor="middle" fill="#222" stroke="#222" stroke-width="0.3" font-weight="normal" >8</text>
<line x1="285.5" y1="256.0" x2="290.7" y2="256.0" stroke="#000" stroke-width="1"/>
<text x="279.2" y="259.2" font-size="9" text-anchor="middle" fill="#222" stroke="#222" stroke-width="0.3" font-weight="normal" >10</text>
<line x1="285.5" y1="235.9" x2="290.7" y2="235.9" stroke="#000" stroke-width="1"/>
<text x="279.2" y="239.1" font-size="9" text-anchor="middle" fill="#222" stroke="#222" stroke-width="0.3" font-weight="normal" >12</text>
<line x1="285.5" y1="215.7" x2="290.7" y2="215.7" stroke="#000" stroke-width="1"/>
<text x="279.2" y="218.9" font-size="9" text-anchor="middle" fill="#222" stroke="#222" stroke-width="0.3" font-weight="normal" >14</text>
<line x1="331.0" y1="357" x2="331.0" y2="360.6" stroke="#000" stroke-width="1"/>
<line x1="375.0" y1="357" x2="375.0" y2="360.6" stroke="#000" stroke-width="1"/>
<line x1="419.0" y1="357" x2="419.0" y2="360.6" stroke="#000" stroke-width="1"/>
<line x1="463.0" y1="357" x2="463.0" y2="360.6" stroke="#000" stroke-width="1"/>
<line x1="507.0" y1="357" x2="507.0" y2="360.6" stroke="#000" stroke-width="1"/>
<text x="292.0" y="372.5" font-size="9.5" text-anchor="middle" fill="#222" stroke="#222" stroke-width="0.3" font-weight="normal" >0</text>
<text x="331.0" y="372.5" font-size="9.5" text-anchor="middle" fill="#222" stroke="#222" stroke-width="0.3" font-weight="normal" >20</text>
<text x="375.0" y="372.5" font-size="9.5" text-anchor="middle" fill="#222" stroke="#222" stroke-width="0.3" font-weight="normal" >40</text>
<text x="419.0" y="372.5" font-size="9.5" text-anchor="middle" fill="#222" stroke="#222" stroke-width="0.3" font-weight="normal" >60</text>
<text x="463.0" y="372.5" font-size="9.5" text-anchor="middle" fill="#222" stroke="#222" stroke-width="0.3" font-weight="normal" >80</text>
<text x="507.0" y="372.5" font-size="9.5" text-anchor="middle" fill="#222" stroke="#222" stroke-width="0.3" font-weight="normal" >100</text>
<text x="404.0" y="384.6" font-size="10" text-anchor="middle" fill="#222" stroke="#222" stroke-width="0.3" font-weight="normal" >Age (years)</text>
<text x="295.5" y="212.9" font-size="16" text-anchor="start" fill="#000" stroke="#000" stroke-width="0" font-weight="bold" >D</text>
<text x="448.5" y="213.4" font-size="10" text-anchor="start" fill="#222" stroke="#222" stroke-width="0.3" font-weight="normal" textLength="57" lengthAdjust="spacingAndGlyphs">granulocytes</text>
<circle cx="295.9" cy="296.0" r="1.9" fill="#1a1a1a"/>
<rect x="313.4" y="285.7" width="3.6" height="3.6" fill="#8fc1cc" stroke="#2e4f58" stroke-width="0.9"/>
<rect x="320.2" y="288.6" width="3.6" height="3.6" fill="#8fc1cc" stroke="#2e4f58" stroke-width="0.9"/>
<circle cx="331.0" cy="286.3" r="1.75" fill="#b5382c" stroke="#4a1a14" stroke-width="0.8"/>
<circle cx="361.7" cy="289.8" r="1.75" fill="#b5382c" stroke="#4a1a14" stroke-width="0.8"/>
<circle cx="311.4" cy="293.5" r="1.9" fill="#1a1a1a"/>
<rect x="311.7" y="296.1" width="3.6" height="3.6" fill="#8fc1cc" stroke="#2e4f58" stroke-width="0.9"/>
<circle cx="313.5" cy="300.5" r="1.9" fill="#1a1a1a"/>
<circle cx="319.9" cy="301.7" r="1.9" fill="#1a1a1a"/>
<circle cx="302.4" cy="308.7" r="1.9" fill="#1a1a1a"/>
<rect x="327.1" y="309.4" width="3.8" height="3.8" fill="#1a1a1a"/>
<circle cx="337.7" cy="309.0" r="1.75" fill="#b5382c" stroke="#4a1a14" stroke-width="0.8"/>
<circle cx="339.8" cy="311.8" r="1.9" fill="#1a1a1a"/>
<circle cx="346.5" cy="306.8" r="1.75" fill="#b5382c" stroke="#4a1a14" stroke-width="0.8"/>
<circle cx="350.8" cy="306.0" r="1.75" fill="#b5382c" stroke="#4a1a14" stroke-width="0.8"/>
<circle cx="348.5" cy="316.1" r="1.75" fill="#b5382c" stroke="#4a1a14" stroke-width="0.8"/>
<rect x="320.1" y="316.1" width="3.8" height="3.8" fill="#1a1a1a"/>
<circle cx="393.0" cy="274.6" r="1.75" fill="#b5382c" stroke="#4a1a14" stroke-width="0.8"/>
<rect x="374.9" y="295.1" width="3.8" height="3.8" fill="#1a1a1a"/>
<circle cx="381.9" cy="292.4" r="1.75" fill="#b5382c" stroke="#4a1a14" stroke-width="0.8"/>
<rect x="384.0" y="295.4" width="3.6" height="3.6" fill="#8fc1cc" stroke="#2e4f58" stroke-width="0.9"/>
<rect x="386.6" y="297.5" width="3.6" height="3.6" fill="#8fc1cc" stroke="#2e4f58" stroke-width="0.9"/>
<circle cx="388.2" cy="302.3" r="1.9" fill="#1a1a1a"/>
<circle cx="388.2" cy="305.3" r="1.75" fill="#b5382c" stroke="#4a1a14" stroke-width="0.8"/>
<circle cx="395.1" cy="299.5" r="1.75" fill="#b5382c" stroke="#4a1a14" stroke-width="0.8"/>
<circle cx="401.8" cy="299.3" r="1.75" fill="#b5382c" stroke="#4a1a14" stroke-width="0.8"/>
<rect x="393.2" y="305.0" width="3.8" height="3.8" fill="#1a1a1a"/>
<circle cx="403.4" cy="308.8" r="1.75" fill="#b5382c" stroke="#4a1a14" stroke-width="0.8"/>
<circle cx="408.0" cy="308.8" r="1.75" fill="#b5382c" stroke="#4a1a14" stroke-width="0.8"/>
<circle cx="386.1" cy="314.5" r="1.75" fill="#b5382c" stroke="#4a1a14" stroke-width="0.8"/>
<circle cx="432.2" cy="294.7" r="1.75" fill="#b5382c" stroke="#4a1a14" stroke-width="0.8"/>
<rect x="432.6" y="298.8" width="3.8" height="3.8" fill="#1a1a1a"/>
<rect x="437.4" y="299.4" width="3.6" height="3.6" fill="#8fc1cc" stroke="#2e4f58" stroke-width="0.9"/>
<circle cx="456.5" cy="292.4" r="1.75" fill="#b5382c" stroke="#4a1a14" stroke-width="0.8"/>
<circle cx="458.8" cy="299.3" r="1.75" fill="#b5382c" stroke="#4a1a14" stroke-width="0.8"/>
</svg></body></html>
